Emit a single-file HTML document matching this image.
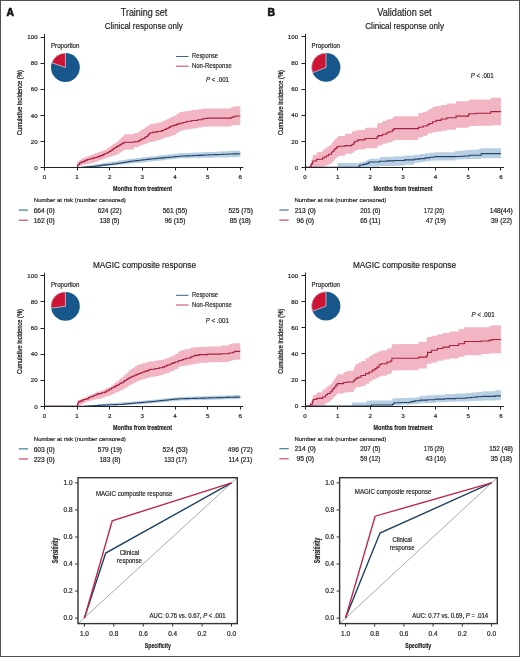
<!DOCTYPE html><html><head><meta charset="utf-8"><style>html,body{margin:0;padding:0;background:#fff;width:520px;height:657px;overflow:hidden}svg{display:block;will-change:transform}</style></head><body><svg width="520" height="657" viewBox="0 0 520 657" font-family='"Liberation Sans", sans-serif'><rect x="0" y="0" width="520" height="657" fill="#fff"/><g opacity="0.999">
<text x="6.60" y="16.30" font-size="10.4" text-anchor="start" font-weight="bold" fill="#111" stroke="#111" stroke-width="0.6">A</text>
<text x="267.40" y="16.30" font-size="10.4" text-anchor="start" font-weight="bold" fill="#111" stroke="#111" stroke-width="0.6">B</text>
<text x="144.00" y="16.40" font-size="10" text-anchor="middle" font-weight="normal" fill="#1c1c1c" stroke="#1c1c1c" stroke-width="0.18" textLength="46.50" lengthAdjust="spacingAndGlyphs" >Training set</text>
<text x="143.80" y="28.60" font-size="8.9" text-anchor="middle" font-weight="normal" fill="#1c1c1c" stroke="#1c1c1c" stroke-width="0.18" textLength="78.00" lengthAdjust="spacingAndGlyphs" >Clinical response only</text>
<text x="404.40" y="16.40" font-size="10" text-anchor="middle" font-weight="normal" fill="#1c1c1c" stroke="#1c1c1c" stroke-width="0.18" textLength="54.30" lengthAdjust="spacingAndGlyphs" >Validation set</text>
<text x="404.60" y="28.60" font-size="8.9" text-anchor="middle" font-weight="normal" fill="#1c1c1c" stroke="#1c1c1c" stroke-width="0.18" textLength="78.70" lengthAdjust="spacingAndGlyphs" >Clinical response only</text>
<text x="144.50" y="268.10" font-size="8.9" text-anchor="middle" font-weight="normal" fill="#1c1c1c" stroke="#1c1c1c" stroke-width="0.18" textLength="103.00" lengthAdjust="spacingAndGlyphs" >MAGIC composite response</text>
<text x="404.50" y="268.10" font-size="8.9" text-anchor="middle" font-weight="normal" fill="#1c1c1c" stroke="#1c1c1c" stroke-width="0.18" textLength="103.00" lengthAdjust="spacingAndGlyphs" >MAGIC composite response</text>
<path d="M77.05,167.50 L78.16,167.50 L78.16,167.28 L81.63,167.28 L81.63,166.58 L84.33,166.58 L84.33,166.07 L86.69,166.07 L86.69,165.69 L89.70,165.69 L89.70,165.20 L92.43,165.20 L92.43,164.76 L94.26,164.76 L94.26,164.46 L95.78,164.46 L95.78,164.21 L96.41,164.21 L96.41,164.11 L97.65,164.11 L97.65,163.91 L99.83,163.91 L99.83,163.56 L100.74,163.56 L100.74,163.41 L102.37,163.41 L102.37,163.14 L103.01,163.14 L103.01,163.04 L104.83,163.04 L104.83,162.75 L104.86,162.75 L104.86,162.74 L106.90,162.74 L106.90,162.43 L108.21,162.43 L108.21,162.23 L110.71,162.23 L110.71,161.84 L112.38,161.84 L112.38,161.59 L113.32,161.59 L113.32,161.44 L115.11,161.44 L115.11,161.17 L116.84,161.17 L116.84,160.90 L118.29,160.90 L118.29,160.68 L118.89,160.68 L118.89,160.59 L119.79,160.59 L119.79,160.45 L121.13,160.45 L121.13,160.24 L121.81,160.24 L121.81,160.14 L123.06,160.14 L123.06,159.95 L124.41,159.95 L124.41,159.74 L125.53,159.74 L125.53,159.57 L126.33,159.57 L126.33,159.44 L127.48,159.44 L127.48,159.27 L128.52,159.27 L128.52,159.11 L129.90,159.11 L129.90,158.89 L131.21,158.89 L131.21,158.73 L132.58,158.73 L132.58,158.56 L134.93,158.56 L134.93,158.28 L136.20,158.28 L136.20,158.12 L137.92,158.12 L137.92,157.91 L139.02,157.91 L139.02,157.77 L141.31,157.77 L141.31,157.50 L141.44,157.50 L141.44,157.48 L142.87,157.48 L142.87,157.30 L143.69,157.30 L143.69,157.20 L145.45,157.20 L145.45,156.99 L147.38,156.99 L147.38,156.75 L149.01,156.75 L149.01,156.55 L150.78,156.55 L150.78,156.34 L152.23,156.34 L152.23,156.19 L154.51,156.19 L154.51,155.94 L156.23,155.94 L156.23,155.75 L157.83,155.75 L157.83,155.58 L159.04,155.58 L159.04,155.45 L159.99,155.45 L159.99,155.34 L162.23,155.34 L162.23,155.10 L164.07,155.10 L164.07,154.90 L165.14,154.90 L165.14,154.78 L165.70,154.78 L165.70,154.72 L167.66,154.72 L167.66,154.51 L168.99,154.51 L168.99,154.36 L171.16,154.36 L171.16,154.13 L173.58,154.13 L173.58,153.87 L173.89,153.87 L173.89,153.83 L175.16,153.83 L175.16,153.69 L176.80,153.69 L176.80,153.52 L179.05,153.52 L179.05,153.27 L181.81,153.27 L181.81,153.08 L185.70,153.08 L185.70,152.91 L189.24,152.91 L189.24,152.75 L193.14,152.75 L193.14,152.58 L197.13,152.58 L197.13,152.41 L201.23,152.41 L201.23,152.23 L202.84,152.23 L202.84,152.16 L204.81,152.16 L204.81,152.08 L209.34,152.08 L209.34,151.88 L214.09,151.88 L214.09,151.67 L217.49,151.67 L217.49,151.53 L218.29,151.53 L218.29,151.49 L222.96,151.49 L222.96,151.29 L228.34,151.29 L228.34,151.05 L233.26,151.05 L233.26,150.84 L237.37,150.84 L237.37,150.66 L240.30,150.66 L240.30,150.66 L240.30,157.12 L240.30,157.12 L237.37,157.12 L237.37,157.20 L233.26,157.20 L233.26,157.29 L228.34,157.29 L228.34,157.40 L222.96,157.40 L222.96,157.49 L218.29,157.49 L218.29,157.51 L217.49,157.51 L217.49,157.57 L214.09,157.57 L214.09,157.67 L209.34,157.67 L209.34,157.75 L204.81,157.75 L204.81,157.79 L202.84,157.79 L202.84,157.82 L201.23,157.82 L201.23,157.90 L197.13,157.90 L197.13,157.98 L193.14,157.98 L193.14,158.06 L189.24,158.06 L189.24,158.13 L185.70,158.13 L185.70,158.20 L181.81,158.20 L181.81,158.36 L179.05,158.36 L179.05,158.61 L176.80,158.61 L176.80,158.78 L175.16,158.78 L175.16,158.92 L173.89,158.92 L173.89,158.96 L173.58,158.96 L173.58,159.22 L171.16,159.22 L171.16,159.45 L168.99,159.45 L168.99,159.60 L167.66,159.60 L167.66,159.81 L165.70,159.81 L165.70,159.87 L165.14,159.87 L165.14,159.99 L164.07,159.99 L164.07,160.19 L162.23,160.19 L162.23,160.43 L159.99,160.43 L159.99,160.54 L159.04,160.54 L159.04,160.67 L157.83,160.67 L157.83,160.84 L156.23,160.84 L156.23,161.03 L154.51,161.03 L154.51,161.27 L152.23,161.27 L152.23,161.43 L150.78,161.43 L150.78,161.62 L149.01,161.62 L149.01,161.79 L147.38,161.79 L147.38,161.99 L145.45,161.99 L145.45,162.17 L143.69,162.17 L143.69,162.25 L142.87,162.25 L142.87,162.40 L141.44,162.40 L141.44,162.41 L141.31,162.41 L141.31,162.65 L139.02,162.65 L139.02,162.76 L137.92,162.76 L137.92,162.94 L136.20,162.94 L136.20,163.07 L134.93,163.07 L134.93,163.31 L132.58,163.31 L132.58,163.45 L131.21,163.45 L131.21,163.59 L129.90,163.59 L129.90,163.74 L128.52,163.74 L128.52,163.85 L127.48,163.85 L127.48,163.97 L126.33,163.97 L126.33,164.06 L125.53,164.06 L125.53,164.18 L124.41,164.18 L124.41,164.33 L123.06,164.33 L123.06,164.46 L121.81,164.46 L121.81,164.53 L121.13,164.53 L121.13,164.68 L119.79,164.68 L119.79,164.77 L118.89,164.77 L118.89,164.84 L118.29,164.84 L118.29,164.99 L116.84,164.99 L116.84,165.18 L115.11,165.18 L115.11,165.37 L113.32,165.37 L113.32,165.48 L112.38,165.48 L112.38,165.65 L110.71,165.65 L110.71,165.92 L108.21,165.92 L108.21,166.06 L106.90,166.06 L106.90,166.28 L104.86,166.28 L104.86,166.29 L104.83,166.29 L104.83,166.45 L103.01,166.45 L103.01,166.50 L102.37,166.50 L102.37,166.63 L100.74,166.63 L100.74,166.71 L99.83,166.71 L99.83,166.89 L97.65,166.89 L97.65,166.99 L96.41,166.99 L96.41,167.04 L95.78,167.04 L95.78,167.17 L94.26,167.17 L94.26,167.25 L92.43,167.25 L92.43,167.30 L89.70,167.30 L89.70,167.35 L86.69,167.35 L86.69,167.38 L84.33,167.38 L84.33,167.43 L81.63,167.43 L81.63,167.48 L78.16,167.48 L78.16,167.50 L77.05,167.50Z" fill="#b8cfe3" />
<path d="M77.05,167.50 L77.47,167.50 L77.47,161.81 L77.94,161.81 L77.94,161.42 L78.07,161.42 L78.07,161.31 L78.13,161.31 L78.13,161.26 L78.15,161.26 L78.15,161.25 L79.55,161.25 L79.55,160.09 L81.25,160.09 L81.25,158.67 L81.71,158.67 L81.71,158.33 L84.10,158.33 L84.10,157.40 L85.77,157.40 L85.77,156.75 L87.55,156.75 L87.55,156.06 L89.94,156.06 L89.94,155.14 L92.45,155.14 L92.45,154.16 L94.62,154.16 L94.62,153.37 L97.03,153.37 L97.03,152.52 L99.18,152.52 L99.18,151.76 L100.45,151.76 L100.45,151.31 L102.88,151.31 L102.88,150.45 L104.22,150.45 L104.22,149.97 L105.24,149.97 L105.24,149.38 L107.01,149.38 L107.01,148.23 L108.38,148.23 L108.38,147.34 L109.64,147.34 L109.64,146.52 L110.77,146.52 L110.77,145.78 L111.94,145.78 L111.94,145.02 L112.92,145.02 L112.92,144.38 L113.06,144.38 L113.06,144.29 L113.49,144.29 L113.49,144.02 L113.89,144.02 L113.89,143.75 L114.64,143.75 L114.64,143.27 L115.20,143.27 L115.20,142.90 L116.54,142.90 L116.54,141.83 L117.63,141.83 L117.63,140.77 L119.25,140.77 L119.25,139.19 L120.66,139.19 L120.66,137.82 L121.83,137.82 L121.83,136.69 L123.13,136.69 L123.13,135.43 L124.46,135.43 L124.46,134.14 L133.87,134.14 L133.87,132.90 L138.60,132.90 L138.60,131.68 L139.66,131.68 L139.66,130.98 L140.31,130.98 L140.31,130.56 L141.47,130.56 L141.47,129.79 L141.52,129.79 L141.52,129.76 L142.69,129.76 L142.69,128.99 L144.64,128.99 L144.64,127.70 L145.37,127.70 L145.37,127.22 L146.46,127.22 L146.46,126.50 L147.70,126.50 L147.70,125.69 L148.07,125.69 L148.07,125.44 L148.38,125.44 L148.38,125.24 L149.12,125.24 L149.12,124.75 L150.13,124.75 L150.13,124.08 L152.96,124.08 L152.96,123.40 L156.90,123.40 L156.90,122.49 L161.25,122.49 L161.25,121.48 L161.38,121.48 L161.38,121.45 L163.36,121.45 L163.36,120.80 L164.62,120.80 L164.62,120.19 L166.16,120.19 L166.16,119.45 L167.11,119.45 L167.11,119.00 L168.85,119.00 L168.85,118.15 L170.27,118.15 L170.27,117.47 L171.06,117.47 L171.06,117.09 L171.43,117.09 L171.43,116.91 L173.31,116.91 L173.31,115.89 L176.21,115.89 L176.21,114.22 L178.03,114.22 L178.03,113.17 L179.86,113.17 L179.86,112.12 L182.92,112.12 L182.92,111.48 L182.94,111.48 L182.94,111.48 L185.84,111.48 L185.84,111.02 L187.75,111.02 L187.75,110.72 L191.59,110.72 L191.59,110.12 L197.59,110.12 L197.59,109.18 L201.99,109.18 L201.99,108.69 L204.05,108.69 L204.05,108.60 L207.29,108.60 L207.29,108.46 L231.28,108.46 L231.28,107.11 L232.88,107.11 L232.88,106.71 L234.39,106.71 L234.39,106.34 L236.32,106.34 L236.32,106.17 L240.30,106.17 L240.30,106.17 L240.30,124.96 L240.30,124.96 L236.32,124.96 L236.32,125.04 L234.39,125.04 L234.39,125.23 L232.88,125.23 L232.88,125.43 L231.28,125.43 L231.28,126.60 L207.29,126.60 L207.29,126.74 L204.05,126.74 L204.05,126.83 L201.99,126.83 L201.99,127.38 L197.59,127.38 L197.59,128.48 L191.59,128.48 L191.59,129.19 L187.75,129.19 L187.75,129.54 L185.84,129.54 L185.84,130.07 L182.94,130.07 L182.94,130.07 L182.92,130.07 L182.92,130.80 L179.86,130.80 L179.86,131.94 L178.03,131.94 L178.03,133.07 L176.21,133.07 L176.21,134.88 L173.31,134.88 L173.31,135.84 L171.43,135.84 L171.43,135.95 L171.06,135.95 L171.06,136.18 L170.27,136.18 L170.27,136.59 L168.85,136.59 L168.85,137.09 L167.11,137.09 L167.11,137.37 L166.16,137.37 L166.16,137.81 L164.62,137.81 L164.62,138.18 L163.36,138.18 L163.36,138.74 L161.38,138.74 L161.38,138.78 L161.25,138.78 L161.25,140.01 L156.90,140.01 L156.90,141.13 L152.96,141.13 L152.96,141.94 L150.13,141.94 L150.13,142.31 L149.12,142.31 L149.12,142.57 L148.38,142.57 L148.38,142.68 L148.07,142.68 L148.07,142.82 L147.70,142.82 L147.70,143.26 L146.46,143.26 L146.46,143.65 L145.37,143.65 L145.37,143.92 L144.64,143.92 L144.64,144.62 L142.69,144.62 L142.69,145.04 L141.52,145.04 L141.52,145.06 L141.47,145.06 L141.47,145.47 L140.31,145.47 L140.31,145.71 L139.66,145.71 L139.66,146.09 L138.60,146.09 L138.60,147.32 L133.87,147.32 L133.87,149.60 L124.46,149.60 L124.46,150.43 L123.13,150.43 L123.13,151.25 L121.83,151.25 L121.83,151.98 L120.66,151.98 L120.66,152.87 L119.25,152.87 L119.25,153.89 L117.63,153.89 L117.63,154.57 L116.54,154.57 L116.54,155.18 L115.20,155.18 L115.20,155.35 L114.64,155.35 L114.64,155.57 L113.89,155.57 L113.89,155.69 L113.49,155.69 L113.49,155.82 L113.06,155.82 L113.06,155.86 L112.92,155.86 L112.92,156.15 L111.94,156.15 L111.94,156.50 L110.77,156.50 L110.77,156.83 L109.64,156.83 L109.64,157.21 L108.38,157.21 L108.38,157.61 L107.01,157.61 L107.01,158.14 L105.24,158.14 L105.24,158.46 L104.22,158.46 L104.22,158.95 L102.88,158.95 L102.88,159.84 L100.45,159.84 L100.45,160.30 L99.18,160.30 L99.18,161.09 L97.03,161.09 L97.03,161.97 L94.62,161.97 L94.62,162.66 L92.45,162.66 L92.45,163.18 L89.94,163.18 L89.94,163.67 L87.55,163.67 L87.55,164.04 L85.77,164.04 L85.77,164.38 L84.10,164.38 L84.10,164.87 L81.71,164.87 L81.71,165.10 L81.25,165.10 L81.25,166.07 L79.55,166.07 L79.55,166.87 L78.15,166.87 L78.15,166.88 L78.13,166.88 L78.13,166.92 L78.07,166.92 L78.07,166.99 L77.94,166.99 L77.94,167.26 L77.47,167.26 L77.47,167.50 L77.05,167.50Z" fill="#f1b5c3" />
<path d="M44.40,167.50 L77.05,167.50 L78.16,167.50 L78.16,167.43 L81.63,167.43 L81.63,167.20 L84.33,167.20 L84.33,167.03 L86.69,167.03 L86.69,166.87 L89.70,166.87 L89.70,166.67 L92.43,166.67 L92.43,166.50 L94.26,166.50 L94.26,166.29 L95.78,166.29 L95.78,166.08 L96.41,166.08 L96.41,166.00 L97.65,166.00 L97.65,165.83 L99.83,165.83 L99.83,165.53 L100.74,165.53 L100.74,165.40 L102.37,165.40 L102.37,165.18 L103.01,165.18 L103.01,165.09 L104.83,165.09 L104.83,164.85 L104.86,164.85 L104.86,164.85 L106.90,164.85 L106.90,164.64 L108.21,164.64 L108.21,164.51 L110.71,164.51 L110.71,164.25 L112.38,164.25 L112.38,164.08 L113.32,164.08 L113.32,163.98 L115.11,163.98 L115.11,163.80 L116.84,163.80 L116.84,163.56 L118.29,163.56 L118.29,163.32 L118.89,163.32 L118.89,163.22 L119.79,163.22 L119.79,163.07 L121.13,163.07 L121.13,162.84 L121.81,162.84 L121.81,162.73 L123.06,162.73 L123.06,162.52 L124.41,162.52 L124.41,162.29 L125.53,162.29 L125.53,162.10 L126.33,162.10 L126.33,161.97 L127.48,161.97 L127.48,161.78 L128.52,161.78 L128.52,161.60 L129.90,161.60 L129.90,161.37 L131.21,161.37 L131.21,161.22 L132.58,161.22 L132.58,161.06 L134.93,161.06 L134.93,160.79 L136.20,160.79 L136.20,160.64 L137.92,160.64 L137.92,160.44 L139.02,160.44 L139.02,160.32 L141.31,160.32 L141.31,160.05 L141.44,160.05 L141.44,160.04 L142.87,160.04 L142.87,159.87 L143.69,159.87 L143.69,159.77 L145.45,159.77 L145.45,159.57 L147.38,159.57 L147.38,159.34 L149.01,159.34 L149.01,159.16 L150.78,159.16 L150.78,158.96 L152.23,158.96 L152.23,158.82 L154.51,158.82 L154.51,158.60 L156.23,158.60 L156.23,158.44 L157.83,158.44 L157.83,158.29 L159.04,158.29 L159.04,158.17 L159.99,158.17 L159.99,158.08 L162.23,158.08 L162.23,157.87 L164.07,157.87 L164.07,157.69 L165.14,157.69 L165.14,157.59 L165.70,157.59 L165.70,157.53 L167.66,157.53 L167.66,157.35 L168.99,157.35 L168.99,157.22 L171.16,157.22 L171.16,157.01 L173.58,157.01 L173.58,156.78 L173.89,156.78 L173.89,156.75 L175.16,156.75 L175.16,156.63 L176.80,156.63 L176.80,156.47 L179.05,156.47 L179.05,156.26 L181.81,156.26 L181.81,156.07 L185.70,156.07 L185.70,155.89 L189.24,155.89 L189.24,155.72 L193.14,155.72 L193.14,155.54 L197.13,155.54 L197.13,155.35 L201.23,155.35 L201.23,155.15 L202.84,155.15 L202.84,155.08 L204.81,155.08 L204.81,154.98 L209.34,154.98 L209.34,154.80 L214.09,154.80 L214.09,154.62 L217.49,154.62 L217.49,154.49 L218.29,154.49 L218.29,154.45 L222.96,154.45 L222.96,154.27 L228.34,154.27 L228.34,154.06 L233.26,154.06 L233.26,153.87 L237.37,153.87 L237.37,153.80 L240.30,153.80 L240.30,153.80" fill="none" stroke="#23466b" stroke-width="1.1" />
<path d="M44.40,167.50 L77.05,167.50 L77.47,167.50 L77.47,166.24 L77.94,166.24 L77.94,164.82 L78.07,164.82 L78.07,164.44 L78.13,164.44 L78.13,164.26 L78.15,164.26 L78.15,164.21 L79.55,164.21 L79.55,162.97 L81.25,162.97 L81.25,162.08 L81.71,162.08 L81.71,161.85 L84.10,161.85 L84.10,160.83 L85.77,160.83 L85.77,160.13 L87.55,160.13 L87.55,159.48 L89.94,159.48 L89.94,158.82 L92.45,158.82 L92.45,158.14 L94.62,158.14 L94.62,157.52 L97.03,157.52 L97.03,156.83 L99.18,156.83 L99.18,156.17 L100.45,156.17 L100.45,155.63 L102.88,155.63 L102.88,154.60 L104.22,154.60 L104.22,154.04 L105.24,154.04 L105.24,153.55 L107.01,153.55 L107.01,152.69 L108.38,152.69 L108.38,152.02 L109.64,152.02 L109.64,151.40 L110.77,151.40 L110.77,150.75 L111.94,150.75 L111.94,149.90 L112.92,149.90 L112.92,149.18 L113.06,149.18 L113.06,149.08 L113.49,149.08 L113.49,148.77 L113.89,148.77 L113.89,148.48 L114.64,148.48 L114.64,147.93 L115.20,147.93 L115.20,147.53 L116.54,147.53 L116.54,146.65 L117.63,146.65 L117.63,146.02 L119.25,146.02 L119.25,145.08 L120.66,145.08 L120.66,144.26 L121.83,144.26 L121.83,143.59 L123.13,143.59 L123.13,142.92 L124.46,142.92 L124.46,142.23 L133.87,142.23 L133.87,141.73 L138.60,141.73 L138.60,140.83 L139.66,140.83 L139.66,140.24 L140.31,140.24 L140.31,139.88 L141.47,139.88 L141.47,139.23 L141.52,139.23 L141.52,139.20 L142.69,139.20 L142.69,138.55 L144.64,138.55 L144.64,137.46 L145.37,137.46 L145.37,137.05 L146.46,137.05 L146.46,136.44 L147.70,136.44 L147.70,135.34 L148.07,135.34 L148.07,134.94 L148.38,134.94 L148.38,134.61 L149.12,134.61 L149.12,133.81 L150.13,133.81 L150.13,132.72 L152.96,132.72 L152.96,132.16 L156.90,132.16 L156.90,131.46 L161.25,131.46 L161.25,130.68 L161.38,130.68 L161.38,130.65 L163.36,130.65 L163.36,130.06 L164.62,130.06 L164.62,129.43 L166.16,129.43 L166.16,128.67 L167.11,128.67 L167.11,128.20 L168.85,128.20 L168.85,127.33 L170.27,127.33 L170.27,126.63 L171.06,126.63 L171.06,126.24 L171.43,126.24 L171.43,126.05 L173.31,126.05 L173.31,125.34 L176.21,125.34 L176.21,124.41 L178.03,124.41 L178.03,123.83 L179.86,123.83 L179.86,123.25 L182.92,123.25 L182.92,122.45 L182.94,122.45 L182.94,122.44 L185.84,122.44 L185.84,121.71 L187.75,121.71 L187.75,121.22 L191.59,121.22 L191.59,120.47 L197.59,120.47 L197.59,119.77 L201.99,119.77 L201.99,118.98 L204.05,118.98 L204.05,118.43 L207.29,118.43 L207.29,118.17 L231.28,118.17 L231.28,117.57 L232.88,117.57 L232.88,116.88 L234.39,116.88 L234.39,116.25 L236.32,116.25 L236.32,115.95 L240.30,115.95 L240.30,115.95" fill="none" stroke="#a8203f" stroke-width="1.1" />
<line x1="44.50" y1="34.00" x2="44.50" y2="170.50" stroke="#222" stroke-width="1.0" />
<line x1="40.50" y1="167.50" x2="243.30" y2="167.50" stroke="#222" stroke-width="1.0" />
<line x1="40.50" y1="141.50" x2="44.50" y2="141.50" stroke="#222" stroke-width="1" />
<line x1="40.50" y1="115.50" x2="44.50" y2="115.50" stroke="#222" stroke-width="1" />
<line x1="40.50" y1="89.50" x2="44.50" y2="89.50" stroke="#222" stroke-width="1" />
<line x1="40.50" y1="63.50" x2="44.50" y2="63.50" stroke="#222" stroke-width="1" />
<line x1="40.50" y1="37.50" x2="44.50" y2="37.50" stroke="#222" stroke-width="1" />
<text x="37.60" y="169.70" font-size="6.2" text-anchor="end" font-weight="normal" fill="#1c1c1c" stroke="#1c1c1c" stroke-width="0.18" >0</text>
<text x="37.60" y="143.60" font-size="6.2" text-anchor="end" font-weight="normal" fill="#1c1c1c" stroke="#1c1c1c" stroke-width="0.18" >20</text>
<text x="37.60" y="117.50" font-size="6.2" text-anchor="end" font-weight="normal" fill="#1c1c1c" stroke="#1c1c1c" stroke-width="0.18" >40</text>
<text x="37.60" y="91.40" font-size="6.2" text-anchor="end" font-weight="normal" fill="#1c1c1c" stroke="#1c1c1c" stroke-width="0.18" >60</text>
<text x="37.60" y="65.30" font-size="6.2" text-anchor="end" font-weight="normal" fill="#1c1c1c" stroke="#1c1c1c" stroke-width="0.18" >80</text>
<text x="37.60" y="39.20" font-size="6.2" text-anchor="end" font-weight="normal" fill="#1c1c1c" stroke="#1c1c1c" stroke-width="0.18" >100</text>
<line x1="77.50" y1="167.50" x2="77.50" y2="170.50" stroke="#222" stroke-width="1" />
<line x1="109.50" y1="167.50" x2="109.50" y2="170.50" stroke="#222" stroke-width="1" />
<line x1="142.50" y1="167.50" x2="142.50" y2="170.50" stroke="#222" stroke-width="1" />
<line x1="175.50" y1="167.50" x2="175.50" y2="170.50" stroke="#222" stroke-width="1" />
<line x1="207.50" y1="167.50" x2="207.50" y2="170.50" stroke="#222" stroke-width="1" />
<line x1="240.50" y1="167.50" x2="240.50" y2="170.50" stroke="#222" stroke-width="1" />
<text x="44.40" y="179.00" font-size="6.2" text-anchor="middle" font-weight="normal" fill="#1c1c1c" stroke="#1c1c1c" stroke-width="0.18" >0</text>
<text x="77.05" y="179.00" font-size="6.2" text-anchor="middle" font-weight="normal" fill="#1c1c1c" stroke="#1c1c1c" stroke-width="0.18" >1</text>
<text x="109.70" y="179.00" font-size="6.2" text-anchor="middle" font-weight="normal" fill="#1c1c1c" stroke="#1c1c1c" stroke-width="0.18" >2</text>
<text x="142.35" y="179.00" font-size="6.2" text-anchor="middle" font-weight="normal" fill="#1c1c1c" stroke="#1c1c1c" stroke-width="0.18" >3</text>
<text x="175.00" y="179.00" font-size="6.2" text-anchor="middle" font-weight="normal" fill="#1c1c1c" stroke="#1c1c1c" stroke-width="0.18" >4</text>
<text x="207.65" y="179.00" font-size="6.2" text-anchor="middle" font-weight="normal" fill="#1c1c1c" stroke="#1c1c1c" stroke-width="0.18" >5</text>
<text x="240.30" y="179.00" font-size="6.2" text-anchor="middle" font-weight="normal" fill="#1c1c1c" stroke="#1c1c1c" stroke-width="0.18" >6</text>
<text transform="translate(21.90,102.70) rotate(-90)" font-size="8.1" text-anchor="middle" fill="#1c1c1c" stroke="#1c1c1c" stroke-width="0.28" textLength="65" lengthAdjust="spacingAndGlyphs">Cumulative incidence (%)</text>
<text x="142.50" y="191.10" font-size="7.9" text-anchor="middle" font-weight="bold" fill="#1c1c1c" textLength="59.00" lengthAdjust="spacingAndGlyphs" stroke="#1c1c1c" stroke-width="0.2">Months from treatment</text>
<circle cx="65.40" cy="67.50" r="14.4" fill="#18578c"/>
<path d="M65.40,67.50 L65.40,53.10 A14.4,14.4 0 0 0 51.82,62.72 Z" fill="#cc1535" stroke="#e8dce4" stroke-width="0.7"/>
<text x="65.20" y="47.90" font-size="6.4" text-anchor="middle" font-weight="normal" fill="#1c1c1c" stroke="#1c1c1c" stroke-width="0.18" textLength="28.40" lengthAdjust="spacingAndGlyphs" >Proportion</text>
<line x1="176.00" y1="56.50" x2="188.50" y2="56.50" stroke="#3a6790" stroke-width="1.0" />
<line x1="176.00" y1="66.20" x2="188.50" y2="66.20" stroke="#c0405e" stroke-width="1.0" />
<text x="192.00" y="58.10" font-size="7.3" text-anchor="start" font-weight="normal" fill="#1c1c1c" stroke="#1c1c1c" stroke-width="0.18" textLength="26.00" lengthAdjust="spacingAndGlyphs" >Response</text>
<text x="192.00" y="67.90" font-size="7.3" text-anchor="start" font-weight="normal" fill="#1c1c1c" stroke="#1c1c1c" stroke-width="0.18" textLength="39.70" lengthAdjust="spacingAndGlyphs" >Non-Response</text>
<text x="206.00" y="81.60" font-size="6.8" fill="#1c1c1c" stroke="#1c1c1c" stroke-width="0.18" textLength="23" lengthAdjust="spacingAndGlyphs"><tspan font-style="italic">P</tspan> &lt; .001</text>
<text x="33.80" y="202.30" font-size="6.0" text-anchor="start" font-weight="normal" fill="#1c1c1c" stroke="#1c1c1c" stroke-width="0.18" textLength="92.00" lengthAdjust="spacingAndGlyphs" >Number at risk (number censored)</text>
<line x1="18.80" y1="210.10" x2="28.00" y2="210.10" stroke="#2e6f8f" stroke-width="1.1" />
<line x1="18.80" y1="220.20" x2="28.00" y2="220.20" stroke="#c23a55" stroke-width="1.1" />
<text x="33.65" y="212.70" font-size="6.3" text-anchor="start" font-weight="normal" fill="#1c1c1c" stroke="#1c1c1c" stroke-width="0.18" textLength="21.10" lengthAdjust="spacingAndGlyphs" >664 (0)</text>
<text x="97.65" y="212.70" font-size="6.3" text-anchor="start" font-weight="normal" fill="#1c1c1c" stroke="#1c1c1c" stroke-width="0.18" textLength="23.95" lengthAdjust="spacingAndGlyphs" >624 (22)</text>
<text x="162.65" y="212.70" font-size="6.3" text-anchor="start" font-weight="normal" fill="#1c1c1c" stroke="#1c1c1c" stroke-width="0.18" textLength="24.70" lengthAdjust="spacingAndGlyphs" >561 (55)</text>
<text x="228.40" y="212.70" font-size="6.3" text-anchor="start" font-weight="normal" fill="#1c1c1c" stroke="#1c1c1c" stroke-width="0.18" textLength="24.45" lengthAdjust="spacingAndGlyphs" >525 (75)</text>
<text x="33.65" y="222.70" font-size="6.3" text-anchor="start" font-weight="normal" fill="#1c1c1c" stroke="#1c1c1c" stroke-width="0.18" textLength="21.10" lengthAdjust="spacingAndGlyphs" >162 (0)</text>
<text x="99.65" y="222.70" font-size="6.3" text-anchor="start" font-weight="normal" fill="#1c1c1c" stroke="#1c1c1c" stroke-width="0.18" textLength="19.70" lengthAdjust="spacingAndGlyphs" >138 (5)</text>
<text x="164.65" y="222.70" font-size="6.3" text-anchor="start" font-weight="normal" fill="#1c1c1c" stroke="#1c1c1c" stroke-width="0.18" textLength="20.70" lengthAdjust="spacingAndGlyphs" >96 (15)</text>
<text x="229.65" y="222.70" font-size="6.3" text-anchor="start" font-weight="normal" fill="#1c1c1c" stroke="#1c1c1c" stroke-width="0.18" textLength="21.20" lengthAdjust="spacingAndGlyphs" >85 (18)</text>
<path d="M77.05,406.30 L79.86,406.30 L79.86,406.08 L84.59,406.08 L84.59,405.70 L87.39,405.70 L87.39,405.46 L89.36,405.46 L89.36,405.26 L89.62,405.26 L89.62,405.23 L92.48,405.23 L92.48,404.94 L94.59,404.94 L94.59,404.72 L96.72,404.72 L96.72,404.50 L98.57,404.50 L98.57,404.31 L101.07,404.31 L101.07,404.05 L103.27,404.05 L103.27,403.83 L105.45,403.83 L105.45,403.60 L107.24,403.60 L107.24,403.42 L109.63,403.42 L109.63,403.17 L110.98,403.17 L110.98,403.07 L113.51,403.07 L113.51,402.88 L117.67,402.88 L117.67,402.56 L121.86,402.56 L121.86,402.24 L123.45,402.24 L123.45,402.12 L124.35,402.12 L124.35,402.06 L125.56,402.06 L125.56,401.96 L126.70,401.96 L126.70,401.88 L127.77,401.88 L127.77,401.80 L127.96,401.80 L127.96,401.78 L129.07,401.78 L129.07,401.70 L130.81,401.70 L130.81,401.57 L132.05,401.57 L132.05,401.47 L133.42,401.47 L133.42,401.37 L135.22,401.37 L135.22,401.23 L136.17,401.23 L136.17,401.16 L137.51,401.16 L137.51,401.06 L138.50,401.06 L138.50,400.98 L139.60,400.98 L139.60,400.90 L141.20,400.90 L141.20,400.78 L142.40,400.78 L142.40,400.68 L144.32,400.68 L144.32,400.49 L146.27,400.49 L146.27,400.30 L147.42,400.30 L147.42,400.18 L148.49,400.18 L148.49,400.08 L150.65,400.08 L150.65,399.86 L151.78,399.86 L151.78,399.75 L152.86,399.75 L152.86,399.64 L154.26,399.64 L154.26,399.50 L155.26,399.50 L155.26,399.40 L156.51,399.40 L156.51,399.27 L157.31,399.27 L157.31,399.19 L159.06,399.19 L159.06,399.02 L160.27,399.02 L160.27,398.90 L160.62,398.90 L160.62,398.86 L160.63,398.86 L160.63,398.86 L162.43,398.86 L162.43,398.68 L163.62,398.68 L163.62,398.56 L164.51,398.56 L164.51,398.47 L165.81,398.47 L165.81,398.34 L166.91,398.34 L166.91,398.23 L168.56,398.23 L168.56,398.07 L169.37,398.07 L169.37,397.99 L170.84,397.99 L170.84,397.84 L171.59,397.84 L171.59,397.77 L173.03,397.77 L173.03,397.62 L173.25,397.62 L173.25,397.60 L174.49,397.60 L174.49,397.48 L175.37,397.48 L175.37,397.39 L177.11,397.39 L177.11,397.22 L178.80,397.22 L178.80,397.05 L179.17,397.05 L179.17,397.01 L180.85,397.01 L180.85,396.88 L184.70,396.88 L184.70,396.75 L188.60,396.75 L188.60,396.61 L192.79,396.61 L192.79,396.47 L197.32,396.47 L197.32,396.31 L200.87,396.31 L200.87,396.19 L205.76,396.19 L205.76,396.02 L209.22,396.02 L209.22,395.90 L210.98,395.90 L210.98,395.84 L213.93,395.84 L213.93,395.73 L217.50,395.73 L217.50,395.61 L222.22,395.61 L222.22,395.44 L226.14,395.44 L226.14,395.31 L229.55,395.31 L229.55,395.19 L230.02,395.19 L230.02,395.17 L234.20,395.17 L234.20,395.03 L238.41,395.03 L238.41,394.88 L240.30,394.88 L240.30,394.88 L240.30,399.04 L240.30,399.04 L238.41,399.04 L238.41,399.15 L234.20,399.15 L234.20,399.26 L230.02,399.26 L230.02,399.27 L229.55,399.27 L229.55,399.36 L226.14,399.36 L226.14,399.46 L222.22,399.46 L222.22,399.59 L217.50,399.59 L217.50,399.68 L213.93,399.68 L213.93,399.76 L210.98,399.76 L210.98,399.80 L209.22,399.80 L209.22,399.89 L205.76,399.89 L205.76,400.02 L200.87,400.02 L200.87,400.11 L197.32,400.11 L197.32,400.23 L192.79,400.23 L192.79,400.34 L188.60,400.34 L188.60,400.44 L184.70,400.44 L184.70,400.54 L180.85,400.54 L180.85,400.65 L179.17,400.65 L179.17,400.69 L178.80,400.69 L178.80,400.84 L177.11,400.84 L177.11,400.99 L175.37,400.99 L175.37,401.07 L174.49,401.07 L174.49,401.18 L173.25,401.18 L173.25,401.20 L173.03,401.20 L173.03,401.33 L171.59,401.33 L171.59,401.40 L170.84,401.40 L170.84,401.53 L169.37,401.53 L169.37,401.60 L168.56,401.60 L168.56,401.75 L166.91,401.75 L166.91,401.85 L165.81,401.85 L165.81,401.97 L164.51,401.97 L164.51,402.05 L163.62,402.05 L163.62,402.15 L162.43,402.15 L162.43,402.31 L160.63,402.31 L160.63,402.31 L160.62,402.31 L160.62,402.35 L160.27,402.35 L160.27,402.45 L159.06,402.45 L159.06,402.61 L157.31,402.61 L157.31,402.68 L156.51,402.68 L156.51,402.79 L155.26,402.79 L155.26,402.88 L154.26,402.88 L154.26,403.01 L152.86,403.01 L152.86,403.11 L151.78,403.11 L151.78,403.21 L150.65,403.21 L150.65,403.40 L148.49,403.40 L148.49,403.50 L147.42,403.50 L147.42,403.60 L146.27,403.60 L146.27,403.77 L144.32,403.77 L144.32,403.95 L142.40,403.95 L142.40,404.01 L141.20,404.01 L141.20,404.09 L139.60,404.09 L139.60,404.15 L138.50,404.15 L138.50,404.20 L137.51,404.20 L137.51,404.27 L136.17,404.27 L136.17,404.32 L135.22,404.32 L135.22,404.42 L133.42,404.42 L133.42,404.49 L132.05,404.49 L132.05,404.55 L130.81,404.55 L130.81,404.64 L129.07,404.64 L129.07,404.70 L127.96,404.70 L127.96,404.71 L127.77,404.71 L127.77,404.76 L126.70,404.76 L126.70,404.82 L125.56,404.82 L125.56,404.89 L124.35,404.89 L124.35,404.93 L123.45,404.93 L123.45,405.02 L121.86,405.02 L121.86,405.23 L117.67,405.23 L117.67,405.45 L113.51,405.45 L113.51,405.58 L110.98,405.58 L110.98,405.65 L109.63,405.65 L109.63,405.75 L107.24,405.75 L107.24,405.82 L105.45,405.82 L105.45,405.90 L103.27,405.90 L103.27,405.99 L101.07,405.99 L101.07,406.09 L98.57,406.09 L98.57,406.17 L96.72,406.17 L96.72,406.18 L94.59,406.18 L94.59,406.20 L92.48,406.20 L92.48,406.22 L89.62,406.22 L89.62,406.22 L89.36,406.22 L89.36,406.23 L87.39,406.23 L87.39,406.25 L84.59,406.25 L84.59,406.28 L79.86,406.28 L79.86,406.30 L77.05,406.30Z" fill="#b8cfe3" />
<path d="M77.05,406.30 L77.32,406.30 L77.32,403.83 L77.43,403.83 L77.43,402.76 L77.68,402.76 L77.68,400.52 L77.86,400.52 L77.86,400.23 L78.11,400.23 L78.11,400.11 L78.51,400.11 L78.51,399.93 L79.03,399.93 L79.03,399.69 L80.46,399.69 L80.46,399.04 L82.72,399.04 L82.72,398.00 L84.09,398.00 L84.09,397.38 L86.54,397.38 L86.54,396.26 L88.66,396.26 L88.66,395.36 L89.70,395.36 L89.70,394.92 L91.30,394.92 L91.30,394.25 L93.67,394.25 L93.67,393.25 L94.93,393.25 L94.93,392.71 L96.93,392.71 L96.93,391.87 L98.06,391.87 L98.06,391.40 L101.65,391.40 L101.65,389.94 L104.56,389.94 L104.56,388.78 L106.28,388.78 L106.28,388.09 L106.92,388.09 L106.92,387.83 L109.00,387.83 L109.00,387.00 L109.32,387.00 L109.32,386.88 L111.39,386.88 L111.39,385.62 L112.17,385.62 L112.17,384.99 L113.87,384.99 L113.87,383.61 L115.00,383.61 L115.00,382.70 L115.88,382.70 L115.88,381.98 L116.55,381.98 L116.55,381.44 L117.80,381.44 L117.80,380.43 L117.99,380.43 L117.99,380.27 L119.52,380.27 L119.52,379.03 L120.44,379.03 L120.44,378.28 L121.33,378.28 L121.33,377.56 L123.48,377.56 L123.48,375.65 L123.81,375.65 L123.81,375.35 L124.84,375.35 L124.84,374.41 L126.36,374.41 L126.36,373.02 L127.77,373.02 L127.77,371.74 L129.12,371.74 L129.12,370.51 L129.65,370.51 L129.65,370.03 L131.50,370.03 L131.50,368.69 L132.83,368.69 L132.83,367.77 L134.87,367.77 L134.87,366.36 L136.82,366.36 L136.82,365.02 L138.67,365.02 L138.67,364.39 L140.87,364.39 L140.87,363.79 L142.76,363.79 L142.76,363.28 L144.91,363.28 L144.91,362.70 L146.80,362.70 L146.80,362.19 L148.61,362.19 L148.61,361.70 L149.65,361.70 L149.65,361.42 L150.82,361.42 L150.82,361.19 L155.32,361.19 L155.32,360.58 L159.07,360.58 L159.07,360.06 L162.53,360.06 L162.53,359.59 L164.58,359.59 L164.58,358.84 L166.71,358.84 L166.71,358.05 L167.78,358.05 L167.78,357.65 L169.94,357.65 L169.94,356.85 L171.47,356.85 L171.47,356.28 L173.55,356.28 L173.55,355.06 L173.57,355.06 L173.57,355.04 L175.30,355.04 L175.30,353.88 L178.14,353.88 L178.14,351.97 L178.94,351.97 L178.94,351.44 L179.58,351.44 L179.58,351.01 L182.04,351.01 L182.04,350.08 L183.90,350.08 L183.90,349.58 L186.28,349.58 L186.28,348.94 L190.16,348.94 L190.16,347.89 L190.89,347.89 L190.89,347.69 L192.03,347.69 L192.03,347.52 L194.70,347.52 L194.70,347.33 L198.91,347.33 L198.91,347.02 L207.68,347.02 L207.68,346.39 L221.13,346.39 L221.13,345.41 L229.09,345.41 L229.09,344.28 L229.55,344.28 L229.55,344.10 L232.64,344.10 L232.64,343.14 L234.73,343.14 L234.73,343.14 L239.41,343.14 L239.41,343.14 L240.30,343.14 L240.30,343.14 L240.30,359.51 L240.30,359.51 L239.41,359.51 L239.41,359.81 L234.73,359.81 L234.73,359.94 L232.64,359.94 L232.64,360.68 L229.55,360.68 L229.55,360.80 L229.09,360.80 L229.09,362.01 L221.13,362.01 L221.13,362.29 L207.68,362.29 L207.68,362.73 L198.91,362.73 L198.91,363.66 L194.70,363.66 L194.70,364.25 L192.03,364.25 L192.03,364.48 L190.89,364.48 L190.89,364.60 L190.16,364.60 L190.16,365.24 L186.28,365.24 L186.28,365.63 L183.90,365.63 L183.90,365.94 L182.04,365.94 L182.04,366.62 L179.58,366.62 L179.58,366.99 L178.94,366.99 L178.94,367.47 L178.14,367.47 L178.14,369.15 L175.30,369.15 L175.30,370.17 L173.57,370.17 L173.57,370.19 L173.55,370.19 L173.55,371.29 L171.47,371.29 L171.47,371.85 L169.94,371.85 L169.94,372.66 L167.78,372.66 L167.78,373.05 L166.71,373.05 L166.71,373.85 L164.58,373.85 L164.58,374.60 L162.53,374.60 L162.53,375.26 L159.07,375.26 L159.07,375.96 L155.32,375.96 L155.32,376.82 L150.82,376.82 L150.82,377.10 L149.65,377.10 L149.65,377.43 L148.61,377.43 L148.61,377.99 L146.80,377.99 L146.80,378.57 L144.91,378.57 L144.91,379.24 L142.76,379.24 L142.76,379.82 L140.87,379.82 L140.87,380.51 L138.67,380.51 L138.67,381.15 L136.82,381.15 L136.82,382.17 L134.87,382.17 L134.87,383.25 L132.83,383.25 L132.83,383.95 L131.50,383.95 L131.50,384.95 L129.65,384.95 L129.65,385.28 L129.12,385.28 L129.12,386.12 L127.77,386.12 L127.77,387.00 L126.36,387.00 L126.36,387.95 L124.84,387.95 L124.84,388.59 L123.81,388.59 L123.81,388.79 L123.48,388.79 L123.48,390.06 L121.33,390.06 L121.33,390.47 L120.44,390.47 L120.44,390.89 L119.52,390.89 L119.52,391.59 L117.99,391.59 L117.99,391.68 L117.80,391.68 L117.80,392.25 L116.55,392.25 L116.55,392.55 L115.88,392.55 L115.88,392.95 L115.00,392.95 L115.00,393.47 L113.87,393.47 L113.87,394.25 L112.17,394.25 L112.17,394.60 L111.39,394.60 L111.39,395.38 L109.32,395.38 L109.32,395.48 L109.00,395.48 L109.00,396.10 L106.92,396.10 L106.92,396.29 L106.28,396.29 L106.28,396.80 L104.56,396.80 L104.56,397.66 L101.65,397.66 L101.65,398.68 L98.06,398.68 L98.06,398.94 L96.93,398.94 L96.93,399.42 L94.93,399.42 L94.93,399.72 L93.67,399.72 L93.67,400.28 L91.30,400.28 L91.30,400.66 L89.70,400.66 L89.70,400.91 L88.66,400.91 L88.66,401.50 L86.54,401.50 L86.54,402.73 L84.09,402.73 L84.09,403.43 L82.72,403.43 L82.72,404.58 L80.46,404.58 L80.46,405.30 L79.03,405.30 L79.03,405.56 L78.51,405.56 L78.51,405.77 L78.11,405.77 L78.11,405.89 L77.86,405.89 L77.86,405.98 L77.68,405.98 L77.68,406.11 L77.43,406.11 L77.43,406.16 L77.32,406.16 L77.32,406.30 L77.05,406.30Z" fill="#f1b5c3" />
<path d="M44.40,406.30 L77.05,406.30 L79.86,406.30 L79.86,406.23 L84.59,406.23 L84.59,406.10 L87.39,406.10 L87.39,406.01 L89.36,406.01 L89.36,405.90 L89.62,405.90 L89.62,405.88 L92.48,405.88 L92.48,405.72 L94.59,405.72 L94.59,405.60 L96.72,405.60 L96.72,405.47 L98.57,405.47 L98.57,405.37 L101.07,405.37 L101.07,405.23 L103.27,405.23 L103.27,405.10 L105.45,405.10 L105.45,404.98 L107.24,404.98 L107.24,404.87 L109.63,404.87 L109.63,404.74 L110.98,404.74 L110.98,404.69 L113.51,404.69 L113.51,404.61 L117.67,404.61 L117.67,404.48 L121.86,404.48 L121.86,404.34 L123.45,404.34 L123.45,404.18 L124.35,404.18 L124.35,404.10 L125.56,404.10 L125.56,403.98 L126.70,403.98 L126.70,403.87 L127.77,403.87 L127.77,403.77 L127.96,403.77 L127.96,403.75 L129.07,403.75 L129.07,403.65 L130.81,403.65 L130.81,403.48 L132.05,403.48 L132.05,403.37 L133.42,403.37 L133.42,403.24 L135.22,403.24 L135.22,403.06 L136.17,403.06 L136.17,402.97 L137.51,402.97 L137.51,402.85 L138.50,402.85 L138.50,402.75 L139.60,402.75 L139.60,402.65 L141.20,402.65 L141.20,402.49 L142.40,402.49 L142.40,402.38 L144.32,402.38 L144.32,402.22 L146.27,402.22 L146.27,402.06 L147.42,402.06 L147.42,401.96 L148.49,401.96 L148.49,401.87 L150.65,401.87 L150.65,401.68 L151.78,401.68 L151.78,401.56 L152.86,401.56 L152.86,401.45 L154.26,401.45 L154.26,401.30 L155.26,401.30 L155.26,401.20 L156.51,401.20 L156.51,401.07 L157.31,401.07 L157.31,400.98 L159.06,400.98 L159.06,400.80 L160.27,400.80 L160.27,400.67 L160.62,400.67 L160.62,400.64 L160.63,400.64 L160.63,400.63 L162.43,400.63 L162.43,400.44 L163.62,400.44 L163.62,400.32 L164.51,400.32 L164.51,400.23 L165.81,400.23 L165.81,400.09 L166.91,400.09 L166.91,399.97 L168.56,399.97 L168.56,399.80 L169.37,399.80 L169.37,399.71 L170.84,399.71 L170.84,399.56 L171.59,399.56 L171.59,399.48 L173.03,399.48 L173.03,399.33 L173.25,399.33 L173.25,399.31 L174.49,399.31 L174.49,399.18 L175.37,399.18 L175.37,399.09 L177.11,399.09 L177.11,398.96 L178.80,398.96 L178.80,398.84 L179.17,398.84 L179.17,398.81 L180.85,398.81 L180.85,398.71 L184.70,398.71 L184.70,398.59 L188.60,398.59 L188.60,398.48 L192.79,398.48 L192.79,398.35 L197.32,398.35 L197.32,398.21 L200.87,398.21 L200.87,398.10 L205.76,398.10 L205.76,397.95 L209.22,397.95 L209.22,397.85 L210.98,397.85 L210.98,397.80 L213.93,397.80 L213.93,397.71 L217.50,397.71 L217.50,397.60 L222.22,397.60 L222.22,397.45 L226.14,397.45 L226.14,397.33 L229.55,397.33 L229.55,397.23 L230.02,397.23 L230.02,397.22 L234.20,397.22 L234.20,397.09 L238.41,397.09 L238.41,396.96 L240.30,396.96 L240.30,396.96" fill="none" stroke="#23466b" stroke-width="1.1" />
<path d="M44.40,406.30 L77.05,406.30 L77.32,406.30 L77.32,405.41 L77.43,405.41 L77.43,405.03 L77.68,405.03 L77.68,404.23 L77.86,404.23 L77.86,403.64 L78.11,403.64 L78.11,402.82 L78.51,402.82 L78.51,401.92 L79.03,401.92 L79.03,401.64 L80.46,401.64 L80.46,400.90 L82.72,400.90 L82.72,399.91 L84.09,399.91 L84.09,399.43 L86.54,399.43 L86.54,398.58 L88.66,398.58 L88.66,397.67 L89.70,397.67 L89.70,397.21 L91.30,397.21 L91.30,396.50 L93.67,396.50 L93.67,395.47 L94.93,395.47 L94.93,394.93 L96.93,394.93 L96.93,394.09 L98.06,394.09 L98.06,393.62 L101.65,393.62 L101.65,392.74 L104.56,392.74 L104.56,392.15 L106.28,392.15 L106.28,391.13 L106.92,391.13 L106.92,390.74 L109.00,390.74 L109.00,389.49 L109.32,389.49 L109.32,389.30 L111.39,389.30 L111.39,388.17 L112.17,388.17 L112.17,387.79 L113.87,387.79 L113.87,386.95 L115.00,386.95 L115.00,386.39 L115.88,386.39 L115.88,385.95 L116.55,385.95 L116.55,385.56 L117.80,385.56 L117.80,384.81 L117.99,384.81 L117.99,384.69 L119.52,384.69 L119.52,383.77 L120.44,383.77 L120.44,383.22 L121.33,383.22 L121.33,382.69 L123.48,382.69 L123.48,381.36 L123.81,381.36 L123.81,381.16 L124.84,381.16 L124.84,380.51 L126.36,380.51 L126.36,379.56 L127.77,379.56 L127.77,378.68 L129.12,378.68 L129.12,377.84 L129.65,377.84 L129.65,377.51 L131.50,377.51 L131.50,376.62 L132.83,376.62 L132.83,376.02 L134.87,376.02 L134.87,375.09 L136.82,375.09 L136.82,374.21 L138.67,374.21 L138.67,373.51 L140.87,373.51 L140.87,372.72 L142.76,372.72 L142.76,372.04 L144.91,372.04 L144.91,371.27 L146.80,371.27 L146.80,370.59 L148.61,370.59 L148.61,369.94 L149.65,369.94 L149.65,369.56 L150.82,369.56 L150.82,369.26 L155.32,369.26 L155.32,368.45 L159.07,368.45 L159.07,367.78 L162.53,367.78 L162.53,367.16 L164.58,367.16 L164.58,366.30 L166.71,366.30 L166.71,365.39 L167.78,365.39 L167.78,364.93 L169.94,364.93 L169.94,364.01 L171.47,364.01 L171.47,363.36 L173.55,363.36 L173.55,362.59 L173.57,362.59 L173.57,362.58 L175.30,362.58 L175.30,361.97 L178.14,361.97 L178.14,360.98 L178.94,360.98 L178.94,360.70 L179.58,360.70 L179.58,360.48 L182.04,360.48 L182.04,359.61 L183.90,359.61 L183.90,358.96 L186.28,358.96 L186.28,358.29 L190.16,358.29 L190.16,357.41 L190.89,357.41 L190.89,356.95 L192.03,356.95 L192.03,356.24 L194.70,356.24 L194.70,355.35 L198.91,355.35 L198.91,354.58 L207.68,354.58 L207.68,354.16 L221.13,354.16 L221.13,353.81 L229.09,353.81 L229.09,353.03 L229.55,353.03 L229.55,352.96 L232.64,352.96 L232.64,352.31 L234.73,352.31 L234.73,351.38 L239.41,351.38 L239.41,351.23 L240.30,351.23 L240.30,351.23" fill="none" stroke="#a8203f" stroke-width="1.1" />
<line x1="44.50" y1="272.80" x2="44.50" y2="409.50" stroke="#222" stroke-width="1.0" />
<line x1="40.50" y1="406.50" x2="243.30" y2="406.50" stroke="#222" stroke-width="1.0" />
<line x1="40.50" y1="380.50" x2="44.50" y2="380.50" stroke="#222" stroke-width="1" />
<line x1="40.50" y1="354.50" x2="44.50" y2="354.50" stroke="#222" stroke-width="1" />
<line x1="40.50" y1="328.50" x2="44.50" y2="328.50" stroke="#222" stroke-width="1" />
<line x1="40.50" y1="301.50" x2="44.50" y2="301.50" stroke="#222" stroke-width="1" />
<line x1="40.50" y1="275.50" x2="44.50" y2="275.50" stroke="#222" stroke-width="1" />
<text x="37.60" y="408.50" font-size="6.2" text-anchor="end" font-weight="normal" fill="#1c1c1c" stroke="#1c1c1c" stroke-width="0.18" >0</text>
<text x="37.60" y="382.40" font-size="6.2" text-anchor="end" font-weight="normal" fill="#1c1c1c" stroke="#1c1c1c" stroke-width="0.18" >20</text>
<text x="37.60" y="356.30" font-size="6.2" text-anchor="end" font-weight="normal" fill="#1c1c1c" stroke="#1c1c1c" stroke-width="0.18" >40</text>
<text x="37.60" y="330.20" font-size="6.2" text-anchor="end" font-weight="normal" fill="#1c1c1c" stroke="#1c1c1c" stroke-width="0.18" >60</text>
<text x="37.60" y="304.10" font-size="6.2" text-anchor="end" font-weight="normal" fill="#1c1c1c" stroke="#1c1c1c" stroke-width="0.18" >80</text>
<text x="37.60" y="278.00" font-size="6.2" text-anchor="end" font-weight="normal" fill="#1c1c1c" stroke="#1c1c1c" stroke-width="0.18" >100</text>
<line x1="77.50" y1="406.50" x2="77.50" y2="409.50" stroke="#222" stroke-width="1" />
<line x1="109.50" y1="406.50" x2="109.50" y2="409.50" stroke="#222" stroke-width="1" />
<line x1="142.50" y1="406.50" x2="142.50" y2="409.50" stroke="#222" stroke-width="1" />
<line x1="175.50" y1="406.50" x2="175.50" y2="409.50" stroke="#222" stroke-width="1" />
<line x1="207.50" y1="406.50" x2="207.50" y2="409.50" stroke="#222" stroke-width="1" />
<line x1="240.50" y1="406.50" x2="240.50" y2="409.50" stroke="#222" stroke-width="1" />
<text x="44.40" y="417.80" font-size="6.2" text-anchor="middle" font-weight="normal" fill="#1c1c1c" stroke="#1c1c1c" stroke-width="0.18" >0</text>
<text x="77.05" y="417.80" font-size="6.2" text-anchor="middle" font-weight="normal" fill="#1c1c1c" stroke="#1c1c1c" stroke-width="0.18" >1</text>
<text x="109.70" y="417.80" font-size="6.2" text-anchor="middle" font-weight="normal" fill="#1c1c1c" stroke="#1c1c1c" stroke-width="0.18" >2</text>
<text x="142.35" y="417.80" font-size="6.2" text-anchor="middle" font-weight="normal" fill="#1c1c1c" stroke="#1c1c1c" stroke-width="0.18" >3</text>
<text x="175.00" y="417.80" font-size="6.2" text-anchor="middle" font-weight="normal" fill="#1c1c1c" stroke="#1c1c1c" stroke-width="0.18" >4</text>
<text x="207.65" y="417.80" font-size="6.2" text-anchor="middle" font-weight="normal" fill="#1c1c1c" stroke="#1c1c1c" stroke-width="0.18" >5</text>
<text x="240.30" y="417.80" font-size="6.2" text-anchor="middle" font-weight="normal" fill="#1c1c1c" stroke="#1c1c1c" stroke-width="0.18" >6</text>
<text transform="translate(21.90,341.50) rotate(-90)" font-size="8.1" text-anchor="middle" fill="#1c1c1c" stroke="#1c1c1c" stroke-width="0.28" textLength="65" lengthAdjust="spacingAndGlyphs">Cumulative incidence (%)</text>
<text x="142.50" y="429.90" font-size="7.9" text-anchor="middle" font-weight="bold" fill="#1c1c1c" textLength="59.00" lengthAdjust="spacingAndGlyphs" stroke="#1c1c1c" stroke-width="0.2">Months from treatment</text>
<circle cx="65.40" cy="306.30" r="14.4" fill="#18578c"/>
<path d="M65.40,306.30 L65.40,291.90 A14.4,14.4 0 0 0 51.11,308.10 Z" fill="#cc1535" stroke="#e8dce4" stroke-width="0.7"/>
<text x="65.20" y="286.70" font-size="6.4" text-anchor="middle" font-weight="normal" fill="#1c1c1c" stroke="#1c1c1c" stroke-width="0.18" textLength="28.40" lengthAdjust="spacingAndGlyphs" >Proportion</text>
<line x1="176.00" y1="295.30" x2="188.50" y2="295.30" stroke="#3a6790" stroke-width="1.0" />
<line x1="176.00" y1="305.00" x2="188.50" y2="305.00" stroke="#c0405e" stroke-width="1.0" />
<text x="192.00" y="296.90" font-size="7.3" text-anchor="start" font-weight="normal" fill="#1c1c1c" stroke="#1c1c1c" stroke-width="0.18" textLength="26.00" lengthAdjust="spacingAndGlyphs" >Response</text>
<text x="192.00" y="306.70" font-size="7.3" text-anchor="start" font-weight="normal" fill="#1c1c1c" stroke="#1c1c1c" stroke-width="0.18" textLength="39.70" lengthAdjust="spacingAndGlyphs" >Non-Response</text>
<text x="205.80" y="323.20" font-size="6.8" fill="#1c1c1c" stroke="#1c1c1c" stroke-width="0.18" textLength="23" lengthAdjust="spacingAndGlyphs"><tspan font-style="italic">P</tspan> &lt; .001</text>
<text x="33.80" y="441.10" font-size="6.0" text-anchor="start" font-weight="normal" fill="#1c1c1c" stroke="#1c1c1c" stroke-width="0.18" textLength="92.00" lengthAdjust="spacingAndGlyphs" >Number at risk (number censored)</text>
<line x1="18.80" y1="448.90" x2="28.00" y2="448.90" stroke="#2e6f8f" stroke-width="1.1" />
<line x1="18.80" y1="459.00" x2="28.00" y2="459.00" stroke="#c23a55" stroke-width="1.1" />
<text x="33.65" y="451.50" font-size="6.3" text-anchor="start" font-weight="normal" fill="#1c1c1c" stroke="#1c1c1c" stroke-width="0.18" textLength="21.10" lengthAdjust="spacingAndGlyphs" >603 (0)</text>
<text x="97.85" y="451.50" font-size="6.3" text-anchor="start" font-weight="normal" fill="#1c1c1c" stroke="#1c1c1c" stroke-width="0.18" textLength="24.20" lengthAdjust="spacingAndGlyphs" >579 (19)</text>
<text x="162.55" y="451.50" font-size="6.3" text-anchor="start" font-weight="normal" fill="#1c1c1c" stroke="#1c1c1c" stroke-width="0.18" textLength="25.20" lengthAdjust="spacingAndGlyphs" >524 (53)</text>
<text x="227.85" y="451.50" font-size="6.3" text-anchor="start" font-weight="normal" fill="#1c1c1c" stroke="#1c1c1c" stroke-width="0.18" textLength="24.90" lengthAdjust="spacingAndGlyphs" >496 (72)</text>
<text x="33.65" y="461.50" font-size="6.3" text-anchor="start" font-weight="normal" fill="#1c1c1c" stroke="#1c1c1c" stroke-width="0.18" textLength="21.10" lengthAdjust="spacingAndGlyphs" >223 (0)</text>
<text x="99.45" y="461.50" font-size="6.3" text-anchor="start" font-weight="normal" fill="#1c1c1c" stroke="#1c1c1c" stroke-width="0.18" textLength="20.90" lengthAdjust="spacingAndGlyphs" >183 (8)</text>
<text x="164.15" y="461.50" font-size="6.3" text-anchor="start" font-weight="normal" fill="#1c1c1c" stroke="#1c1c1c" stroke-width="0.18" textLength="22.60" lengthAdjust="spacingAndGlyphs" >133 (17)</text>
<text x="228.55" y="461.50" font-size="6.3" text-anchor="start" font-weight="normal" fill="#1c1c1c" stroke="#1c1c1c" stroke-width="0.18" textLength="23.60" lengthAdjust="spacingAndGlyphs" >114 (21)</text>
<path d="M337.65,162.96 L342.71,162.96 L342.71,162.96 L357.96,162.96 L357.96,162.94 L358.83,162.94 L358.83,162.68 L359.15,162.68 L359.15,162.58 L359.95,162.58 L359.95,162.34 L363.16,162.34 L363.16,161.36 L365.79,161.36 L365.79,160.56 L366.88,160.56 L366.88,160.08 L368.83,160.08 L368.83,159.13 L369.41,159.13 L369.41,158.84 L379.59,158.84 L379.59,157.11 L386.83,157.11 L386.83,156.64 L393.89,156.64 L393.89,156.18 L404.63,156.18 L404.63,155.46 L414.14,155.46 L414.14,154.78 L414.83,154.78 L414.83,154.72 L419.58,154.72 L419.58,154.06 L425.21,154.06 L425.21,153.27 L430.03,153.27 L430.03,152.75 L434.15,152.75 L434.15,152.44 L435.57,152.44 L435.57,152.33 L455.00,152.33 L455.00,150.89 L461.43,150.89 L461.43,150.41 L464.12,150.41 L464.12,150.21 L469.42,150.21 L469.42,149.82 L478.95,149.82 L478.95,148.64 L481.12,148.64 L481.12,148.36 L481.13,148.36 L481.13,148.36 L481.22,148.36 L481.22,148.35 L481.40,148.35 L481.40,148.33 L500.90,148.33 L500.90,148.33 L500.90,158.29 L500.90,158.29 L481.40,158.29 L481.40,158.30 L481.22,158.30 L481.22,158.30 L481.13,158.30 L481.13,158.30 L481.12,158.30 L481.12,158.42 L478.95,158.42 L478.95,158.94 L469.42,158.94 L469.42,159.19 L464.12,159.19 L464.12,159.31 L461.43,159.31 L461.43,159.61 L455.00,159.61 L455.00,160.51 L435.57,160.51 L435.57,160.58 L434.15,160.58 L434.15,160.77 L430.03,160.77 L430.03,161.25 L425.21,161.25 L425.21,162.06 L419.58,162.06 L419.58,162.76 L414.83,162.76 L414.83,162.86 L414.14,162.86 L414.14,164.66 L404.63,164.66 L404.63,165.79 L393.89,165.79 L393.89,165.89 L386.83,165.89 L386.83,165.99 L379.59,165.99 L379.59,166.65 L369.41,166.65 L369.41,166.78 L368.83,166.78 L368.83,167.22 L366.88,167.22 L366.88,167.40 L365.79,167.40 L365.79,167.40 L363.16,167.40 L363.16,167.40 L359.95,167.40 L359.95,167.40 L359.15,167.40 L359.15,167.40 L358.83,167.40 L358.83,167.40 L357.96,167.40 L357.96,167.40 L342.71,167.40 L342.71,167.40 L337.65,167.40Z" fill="#b8cfe3" />
<path d="M309.57,167.40 L310.26,167.40 L310.26,162.63 L311.23,162.63 L311.23,159.99 L311.48,159.99 L311.48,159.31 L312.64,159.31 L312.64,156.14 L313.06,156.14 L313.06,155.01 L316.50,155.01 L316.50,152.62 L318.03,152.62 L318.03,152.01 L318.17,152.01 L318.17,151.96 L322.57,151.96 L322.57,149.99 L324.20,149.99 L324.20,148.76 L326.43,148.76 L326.43,147.06 L328.71,147.06 L328.71,145.34 L331.55,145.34 L331.55,143.03 L332.47,143.03 L332.47,141.99 L333.99,141.99 L333.99,140.25 L335.01,140.25 L335.01,139.09 L336.56,139.09 L336.56,137.34 L338.42,137.34 L338.42,136.07 L345.14,136.07 L345.14,133.64 L351.90,133.64 L351.90,131.58 L353.95,131.58 L353.95,131.01 L354.81,131.01 L354.81,130.80 L357.89,130.80 L357.89,130.02 L364.95,130.02 L364.95,128.07 L365.80,128.07 L365.80,127.81 L377.15,127.81 L377.15,123.78 L378.13,123.78 L378.13,123.06 L382.57,123.06 L382.57,121.00 L386.27,121.00 L386.27,119.87 L388.10,119.87 L388.10,119.31 L389.31,119.31 L389.31,118.94 L392.29,118.94 L392.29,117.44 L394.12,117.44 L394.12,116.13 L418.45,116.13 L418.45,112.99 L422.91,112.99 L422.91,111.78 L427.15,111.78 L427.15,110.44 L428.31,110.44 L428.31,109.68 L429.44,109.68 L429.44,108.53 L432.54,108.53 L432.54,106.85 L436.02,106.85 L436.02,106.10 L441.19,106.10 L441.19,105.00 L446.90,105.00 L446.90,103.49 L456.00,103.49 L456.00,101.26 L456.66,101.26 L456.66,101.17 L468.57,101.17 L468.57,99.70 L469.31,99.70 L469.31,99.61 L476.56,99.61 L476.56,99.54 L490.77,99.54 L490.77,97.70 L500.90,97.70 L500.90,97.70 L500.90,125.24 L500.90,125.24 L490.77,125.24 L490.77,125.78 L476.56,125.78 L476.56,126.11 L469.31,126.11 L469.31,126.20 L468.57,126.20 L468.57,127.76 L456.66,127.76 L456.66,127.85 L456.00,127.85 L456.00,129.66 L446.90,129.66 L446.90,130.84 L441.19,130.84 L441.19,131.75 L436.02,131.75 L436.02,132.36 L432.54,132.36 L432.54,133.18 L429.44,133.18 L429.44,133.61 L428.31,133.61 L428.31,134.06 L427.15,134.06 L427.15,135.71 L422.91,135.71 L422.91,137.15 L418.45,137.15 L418.45,140.05 L394.12,140.05 L394.12,141.12 L392.29,141.12 L392.29,142.28 L389.31,142.28 L389.31,142.54 L388.10,142.54 L388.10,142.93 L386.27,142.93 L386.27,143.71 L382.57,143.71 L382.57,145.50 L378.13,145.50 L378.13,146.22 L377.15,146.22 L377.15,148.20 L365.80,148.20 L365.80,148.29 L364.95,148.29 L364.95,149.43 L357.89,149.43 L357.89,150.24 L354.81,150.24 L354.81,151.39 L353.95,151.39 L353.95,152.81 L351.90,152.81 L351.90,153.78 L345.14,153.78 L345.14,155.72 L338.42,155.72 L338.42,156.90 L336.56,156.90 L336.56,158.62 L335.01,158.62 L335.01,159.76 L333.99,159.76 L333.99,161.46 L332.47,161.46 L332.47,162.48 L331.55,162.48 L331.55,164.06 L328.71,164.06 L328.71,165.10 L326.43,165.10 L326.43,166.13 L324.20,166.13 L324.20,166.87 L322.57,166.87 L322.57,167.22 L318.17,167.22 L318.17,167.22 L318.03,167.22 L318.03,167.25 L316.50,167.25 L316.50,167.33 L313.06,167.33 L313.06,167.34 L312.64,167.34 L312.64,167.36 L311.48,167.36 L311.48,167.37 L311.23,167.37 L311.23,167.39 L310.26,167.39 L310.26,167.40 L309.57,167.40Z" fill="#f1b5c3" />
<path d="M305.00,167.40 L337.65,167.40 L342.71,167.40 L342.71,167.40 L357.96,167.40 L357.96,167.32 L358.83,167.32 L358.83,166.27 L359.15,166.27 L359.15,165.89 L359.95,165.89 L359.95,165.03 L363.16,165.03 L363.16,164.42 L365.79,164.42 L365.79,163.93 L366.88,163.93 L366.88,163.41 L368.83,163.41 L368.83,162.30 L369.41,162.30 L369.41,161.98 L379.59,161.98 L379.59,161.21 L386.83,161.21 L386.83,160.87 L393.89,160.87 L393.89,160.52 L404.63,160.52 L404.63,159.89 L414.14,159.89 L414.14,159.22 L414.83,159.22 L414.83,159.16 L419.58,159.16 L419.58,158.59 L425.21,158.59 L425.21,157.92 L430.03,157.92 L430.03,157.32 L434.15,157.32 L434.15,156.79 L435.57,156.79 L435.57,156.61 L455.00,156.61 L455.00,156.44 L461.43,156.44 L461.43,156.24 L464.12,156.24 L464.12,155.93 L469.42,155.93 L469.42,155.32 L478.95,155.32 L478.95,155.26 L481.12,155.26 L481.12,154.22 L481.13,154.22 L481.13,154.20 L481.22,154.20 L481.22,153.99 L481.40,153.99 L481.40,153.59 L500.90,153.59 L500.90,153.59" fill="none" stroke="#23466b" stroke-width="1.1" />
<path d="M305.00,167.40 L309.57,167.40 L310.26,167.40 L310.26,166.14 L311.23,166.14 L311.23,164.37 L311.48,164.37 L311.48,163.91 L312.64,163.91 L312.64,161.78 L313.06,161.78 L313.06,161.02 L316.50,161.02 L316.50,159.57 L318.03,159.57 L318.03,159.25 L318.17,159.25 L318.17,159.22 L322.57,159.22 L322.57,158.04 L324.20,158.04 L324.20,157.07 L326.43,157.07 L326.43,155.70 L328.71,155.70 L328.71,154.22 L331.55,154.22 L331.55,152.21 L332.47,152.21 L332.47,151.26 L333.99,151.26 L333.99,149.69 L335.01,149.69 L335.01,148.64 L336.56,148.64 L336.56,147.05 L338.42,147.05 L338.42,146.18 L345.14,146.18 L345.14,145.67 L351.90,145.67 L351.90,144.27 L353.95,144.27 L353.95,142.58 L354.81,142.58 L354.81,141.26 L357.89,141.26 L357.89,139.86 L364.95,139.86 L364.95,138.60 L365.80,138.60 L365.80,138.47 L377.15,138.47 L377.15,136.61 L378.13,136.61 L378.13,135.59 L382.57,135.59 L382.57,134.29 L386.27,134.29 L386.27,132.96 L388.10,132.96 L388.10,132.23 L389.31,132.23 L389.31,131.74 L392.29,131.74 L392.29,129.92 L394.12,129.92 L394.12,128.64 L418.45,128.64 L418.45,127.24 L422.91,127.24 L422.91,125.99 L427.15,125.99 L427.15,125.00 L428.31,125.00 L428.31,124.40 L429.44,124.40 L429.44,123.44 L432.54,123.44 L432.54,121.68 L436.02,121.68 L436.02,120.37 L441.19,120.37 L441.19,119.03 L446.90,119.03 L446.90,117.69 L456.00,117.69 L456.00,116.17 L456.66,116.17 L456.66,116.11 L468.57,116.11 L468.57,114.37 L469.31,114.37 L469.31,113.73 L476.56,113.73 L476.56,113.24 L490.77,113.24 L490.77,111.62 L500.90,111.62 L500.90,111.62" fill="none" stroke="#a8203f" stroke-width="1.1" />
<line x1="305.50" y1="33.90" x2="305.50" y2="170.50" stroke="#222" stroke-width="1.0" />
<line x1="301.50" y1="167.50" x2="503.90" y2="167.50" stroke="#222" stroke-width="1.0" />
<line x1="301.50" y1="141.50" x2="305.50" y2="141.50" stroke="#222" stroke-width="1" />
<line x1="301.50" y1="115.50" x2="305.50" y2="115.50" stroke="#222" stroke-width="1" />
<line x1="301.50" y1="89.50" x2="305.50" y2="89.50" stroke="#222" stroke-width="1" />
<line x1="301.50" y1="63.50" x2="305.50" y2="63.50" stroke="#222" stroke-width="1" />
<line x1="301.50" y1="36.50" x2="305.50" y2="36.50" stroke="#222" stroke-width="1" />
<text x="298.20" y="169.60" font-size="6.2" text-anchor="end" font-weight="normal" fill="#1c1c1c" stroke="#1c1c1c" stroke-width="0.18" >0</text>
<text x="298.20" y="143.50" font-size="6.2" text-anchor="end" font-weight="normal" fill="#1c1c1c" stroke="#1c1c1c" stroke-width="0.18" >20</text>
<text x="298.20" y="117.40" font-size="6.2" text-anchor="end" font-weight="normal" fill="#1c1c1c" stroke="#1c1c1c" stroke-width="0.18" >40</text>
<text x="298.20" y="91.30" font-size="6.2" text-anchor="end" font-weight="normal" fill="#1c1c1c" stroke="#1c1c1c" stroke-width="0.18" >60</text>
<text x="298.20" y="65.20" font-size="6.2" text-anchor="end" font-weight="normal" fill="#1c1c1c" stroke="#1c1c1c" stroke-width="0.18" >80</text>
<text x="298.20" y="39.10" font-size="6.2" text-anchor="end" font-weight="normal" fill="#1c1c1c" stroke="#1c1c1c" stroke-width="0.18" >100</text>
<line x1="337.50" y1="167.50" x2="337.50" y2="170.50" stroke="#222" stroke-width="1" />
<line x1="370.50" y1="167.50" x2="370.50" y2="170.50" stroke="#222" stroke-width="1" />
<line x1="402.50" y1="167.50" x2="402.50" y2="170.50" stroke="#222" stroke-width="1" />
<line x1="435.50" y1="167.50" x2="435.50" y2="170.50" stroke="#222" stroke-width="1" />
<line x1="468.50" y1="167.50" x2="468.50" y2="170.50" stroke="#222" stroke-width="1" />
<line x1="500.50" y1="167.50" x2="500.50" y2="170.50" stroke="#222" stroke-width="1" />
<text x="305.00" y="178.90" font-size="6.2" text-anchor="middle" font-weight="normal" fill="#1c1c1c" stroke="#1c1c1c" stroke-width="0.18" >0</text>
<text x="337.65" y="178.90" font-size="6.2" text-anchor="middle" font-weight="normal" fill="#1c1c1c" stroke="#1c1c1c" stroke-width="0.18" >1</text>
<text x="370.30" y="178.90" font-size="6.2" text-anchor="middle" font-weight="normal" fill="#1c1c1c" stroke="#1c1c1c" stroke-width="0.18" >2</text>
<text x="402.95" y="178.90" font-size="6.2" text-anchor="middle" font-weight="normal" fill="#1c1c1c" stroke="#1c1c1c" stroke-width="0.18" >3</text>
<text x="435.60" y="178.90" font-size="6.2" text-anchor="middle" font-weight="normal" fill="#1c1c1c" stroke="#1c1c1c" stroke-width="0.18" >4</text>
<text x="468.25" y="178.90" font-size="6.2" text-anchor="middle" font-weight="normal" fill="#1c1c1c" stroke="#1c1c1c" stroke-width="0.18" >5</text>
<text x="500.90" y="178.90" font-size="6.2" text-anchor="middle" font-weight="normal" fill="#1c1c1c" stroke="#1c1c1c" stroke-width="0.18" >6</text>
<text transform="translate(282.50,102.60) rotate(-90)" font-size="8.1" text-anchor="middle" fill="#1c1c1c" stroke="#1c1c1c" stroke-width="0.28" textLength="65" lengthAdjust="spacingAndGlyphs">Cumulative incidence (%)</text>
<text x="403.10" y="191.00" font-size="7.9" text-anchor="middle" font-weight="bold" fill="#1c1c1c" textLength="59.00" lengthAdjust="spacingAndGlyphs" stroke="#1c1c1c" stroke-width="0.2">Months from treatment</text>
<circle cx="326.00" cy="67.40" r="14.4" fill="#18578c"/>
<path d="M326.00,67.40 L326.00,53.00 A14.4,14.4 0 0 0 312.63,72.76 Z" fill="#cc1535" stroke="#e8dce4" stroke-width="0.7"/>
<text x="325.80" y="47.80" font-size="6.4" text-anchor="middle" font-weight="normal" fill="#1c1c1c" stroke="#1c1c1c" stroke-width="0.18" textLength="28.40" lengthAdjust="spacingAndGlyphs" >Proportion</text>
<text x="470.70" y="78.00" font-size="6.8" fill="#1c1c1c" stroke="#1c1c1c" stroke-width="0.18" textLength="23" lengthAdjust="spacingAndGlyphs"><tspan font-style="italic">P</tspan> &lt; .001</text>
<text x="294.40" y="202.20" font-size="6.0" text-anchor="start" font-weight="normal" fill="#1c1c1c" stroke="#1c1c1c" stroke-width="0.18" textLength="92.00" lengthAdjust="spacingAndGlyphs" >Number at risk (number censored)</text>
<line x1="279.40" y1="210.00" x2="288.60" y2="210.00" stroke="#2e6f8f" stroke-width="1.1" />
<line x1="279.40" y1="220.10" x2="288.60" y2="220.10" stroke="#c23a55" stroke-width="1.1" />
<text x="294.65" y="212.60" font-size="6.3" text-anchor="start" font-weight="normal" fill="#1c1c1c" stroke="#1c1c1c" stroke-width="0.18" textLength="21.20" lengthAdjust="spacingAndGlyphs" >213 (0)</text>
<text x="360.15" y="212.60" font-size="6.3" text-anchor="start" font-weight="normal" fill="#1c1c1c" stroke="#1c1c1c" stroke-width="0.18" textLength="20.20" lengthAdjust="spacingAndGlyphs" >201 (6)</text>
<text x="423.90" y="212.60" font-size="6.3" text-anchor="start" font-weight="normal" fill="#1c1c1c" stroke="#1c1c1c" stroke-width="0.18" textLength="20.20" lengthAdjust="spacingAndGlyphs" >172 (26)</text>
<text x="489.65" y="212.60" font-size="6.3" text-anchor="start" font-weight="normal" fill="#1c1c1c" stroke="#1c1c1c" stroke-width="0.18" textLength="23.20" lengthAdjust="spacingAndGlyphs" >148(44)</text>
<text x="296.40" y="222.60" font-size="6.3" text-anchor="start" font-weight="normal" fill="#1c1c1c" stroke="#1c1c1c" stroke-width="0.18" textLength="17.70" lengthAdjust="spacingAndGlyphs" >96 (0)</text>
<text x="360.15" y="222.60" font-size="6.3" text-anchor="start" font-weight="normal" fill="#1c1c1c" stroke="#1c1c1c" stroke-width="0.18" textLength="20.20" lengthAdjust="spacingAndGlyphs" >65 (11)</text>
<text x="425.90" y="222.60" font-size="6.3" text-anchor="start" font-weight="normal" fill="#1c1c1c" stroke="#1c1c1c" stroke-width="0.18" textLength="19.95" lengthAdjust="spacingAndGlyphs" >47 (19)</text>
<text x="490.90" y="222.60" font-size="6.3" text-anchor="start" font-weight="normal" fill="#1c1c1c" stroke="#1c1c1c" stroke-width="0.18" textLength="21.20" lengthAdjust="spacingAndGlyphs" >39 (22)</text>
<path d="M337.65,406.10 L351.81,406.10 L351.81,402.46 L366.67,402.46 L366.67,400.85 L370.04,400.85 L370.04,400.62 L370.56,400.62 L370.56,400.58 L371.50,400.58 L371.50,400.52 L392.33,400.52 L392.33,398.42 L392.65,398.42 L392.65,398.39 L393.30,398.39 L393.30,398.32 L394.14,398.32 L394.14,398.26 L400.22,398.26 L400.22,398.07 L409.90,398.07 L409.90,397.77 L411.49,397.77 L411.49,397.72 L413.84,397.72 L413.84,397.64 L415.63,397.64 L415.63,397.29 L419.77,397.29 L419.77,395.85 L420.25,395.85 L420.25,395.77 L427.22,395.77 L427.22,395.31 L434.91,395.31 L434.91,394.81 L436.56,394.81 L436.56,394.70 L444.51,394.70 L444.51,394.22 L447.31,394.22 L447.31,394.05 L455.68,394.05 L455.68,393.57 L457.13,393.57 L457.13,393.49 L466.02,393.49 L466.02,392.92 L471.56,392.92 L471.56,392.40 L476.60,392.40 L476.60,391.93 L477.17,391.93 L477.17,391.88 L481.32,391.88 L481.32,391.49 L483.25,391.49 L483.25,391.31 L495.23,391.31 L495.23,390.19 L500.90,390.19 L500.90,390.19 L500.90,400.17 L500.90,400.17 L495.23,400.17 L495.23,400.60 L483.25,400.60 L483.25,400.67 L481.32,400.67 L481.32,400.82 L477.17,400.82 L477.17,400.84 L476.60,400.84 L476.60,401.02 L471.56,401.02 L471.56,401.22 L466.02,401.22 L466.02,401.51 L457.13,401.51 L457.13,401.55 L455.68,401.55 L455.68,401.82 L447.31,401.82 L447.31,401.91 L444.51,401.91 L444.51,402.27 L436.56,402.27 L436.56,402.38 L434.91,402.38 L434.91,402.88 L427.22,402.88 L427.22,403.33 L420.25,403.33 L420.25,403.36 L419.77,403.36 L419.77,403.63 L415.63,403.63 L415.63,403.75 L413.84,403.75 L413.84,403.90 L411.49,403.90 L411.49,404.01 L409.90,404.01 L409.90,404.87 L400.22,404.87 L400.22,405.42 L394.14,405.42 L394.14,405.70 L393.30,405.70 L393.30,406.03 L392.65,406.03 L392.65,406.10 L392.33,406.10 L392.33,406.10 L371.50,406.10 L371.50,406.10 L370.56,406.10 L370.56,406.10 L370.04,406.10 L370.04,406.10 L366.67,406.10 L366.67,406.10 L351.81,406.10 L351.81,406.10 L337.65,406.10Z" fill="#b8cfe3" />
<path d="M309.57,406.10 L310.02,406.10 L310.02,402.93 L310.60,402.93 L310.60,401.54 L312.39,401.54 L312.39,397.26 L313.28,397.26 L313.28,395.12 L316.41,395.12 L316.41,393.00 L317.76,393.00 L317.76,392.25 L322.58,392.25 L322.58,389.46 L325.47,389.46 L325.47,387.28 L327.53,387.28 L327.53,385.72 L330.23,385.72 L330.23,383.68 L332.20,383.68 L332.20,381.48 L333.21,381.48 L333.21,380.06 L334.46,380.06 L334.46,378.30 L335.98,378.30 L335.98,376.16 L337.25,376.16 L337.25,374.37 L343.54,374.37 L343.54,371.88 L347.12,371.88 L347.12,370.73 L353.77,370.73 L353.77,367.34 L355.00,367.34 L355.00,364.71 L356.08,364.71 L356.08,364.07 L358.10,364.07 L358.10,362.87 L361.17,362.87 L361.17,361.07 L365.47,361.07 L365.47,358.35 L369.05,358.35 L369.05,356.06 L372.27,356.06 L372.27,354.37 L372.91,354.37 L372.91,354.06 L374.98,354.06 L374.98,353.07 L376.86,353.07 L376.86,352.16 L379.13,352.16 L379.13,351.08 L381.02,351.08 L381.02,350.39 L386.97,350.39 L386.97,348.57 L390.79,348.57 L390.79,347.40 L391.88,347.40 L391.88,344.37 L397.39,344.37 L397.39,343.97 L418.60,343.97 L418.60,341.69 L426.71,341.69 L426.71,337.49 L427.58,337.49 L427.58,337.04 L427.64,337.04 L427.64,337.00 L431.60,337.00 L431.60,335.86 L437.39,335.86 L437.39,334.23 L442.98,334.23 L442.98,332.88 L443.01,332.88 L443.01,332.88 L449.39,332.88 L449.39,331.54 L458.73,331.54 L458.73,329.05 L464.42,329.05 L464.42,327.35 L480.99,327.35 L480.99,327.28 L489.25,327.28 L489.25,326.07 L492.24,326.07 L492.24,325.19 L500.90,325.19 L500.90,325.19 L500.90,353.22 L500.90,353.22 L492.24,353.22 L492.24,353.43 L489.25,353.43 L489.25,354.03 L480.99,354.03 L480.99,355.26 L464.42,355.26 L464.42,356.65 L458.73,356.65 L458.73,358.60 L449.39,358.60 L449.39,359.56 L443.01,359.56 L443.01,359.56 L442.98,359.56 L442.98,360.75 L437.39,360.75 L437.39,362.44 L431.60,362.44 L431.60,363.63 L427.64,363.63 L427.64,363.66 L427.58,363.66 L427.58,364.13 L426.71,364.13 L426.71,368.44 L418.60,368.44 L418.60,370.27 L397.39,370.27 L397.39,370.47 L391.88,370.47 L391.88,372.85 L390.79,372.85 L390.79,374.01 L386.97,374.01 L386.97,375.83 L381.02,375.83 L381.02,376.52 L379.13,376.52 L379.13,377.61 L376.86,377.61 L376.86,378.51 L374.98,378.51 L374.98,379.50 L372.91,379.50 L372.91,379.81 L372.27,379.81 L372.27,381.47 L369.05,381.47 L369.05,383.65 L365.47,383.65 L365.47,386.06 L361.17,386.06 L361.17,386.93 L358.10,386.93 L358.10,387.51 L356.08,387.51 L356.08,387.82 L355.00,387.82 L355.00,389.81 L353.77,389.81 L353.77,391.94 L347.12,391.94 L347.12,392.45 L343.54,392.45 L343.54,393.39 L337.25,393.39 L337.25,394.70 L335.98,394.70 L335.98,396.27 L334.46,396.27 L334.46,397.55 L333.21,397.55 L333.21,398.59 L332.20,398.59 L332.20,400.28 L330.23,400.28 L330.23,402.01 L327.53,402.01 L327.53,403.34 L325.47,403.34 L325.47,405.19 L322.58,405.19 L322.58,405.76 L317.76,405.76 L317.76,405.81 L316.41,405.81 L316.41,405.94 L313.28,405.94 L313.28,405.98 L312.39,405.98 L312.39,406.06 L310.60,406.06 L310.60,406.08 L310.02,406.08 L310.02,406.10 L309.57,406.10Z" fill="#f1b5c3" />
<path d="M305.00,406.10 L337.65,406.10 L351.81,406.10 L351.81,406.10 L366.67,406.10 L366.67,406.10 L370.04,406.10 L370.04,406.05 L370.56,406.05 L370.56,405.67 L371.50,405.67 L371.50,404.98 L392.33,404.98 L392.33,404.66 L392.65,404.66 L392.65,404.46 L393.30,404.46 L393.30,403.54 L394.14,403.54 L394.14,402.82 L400.22,402.82 L400.22,402.52 L409.90,402.52 L409.90,402.03 L411.49,402.03 L411.49,401.66 L413.84,401.66 L413.84,401.10 L415.63,401.10 L415.63,400.68 L419.77,400.68 L419.77,400.18 L420.25,400.18 L420.25,400.15 L427.22,400.15 L427.22,399.72 L434.91,399.72 L434.91,399.23 L436.56,399.23 L436.56,399.13 L444.51,399.13 L444.51,398.73 L447.31,398.73 L447.31,398.61 L455.68,398.61 L455.68,398.26 L457.13,398.26 L457.13,398.20 L466.02,398.20 L466.02,397.76 L471.56,397.76 L471.56,397.29 L476.60,397.29 L476.60,396.87 L477.17,396.87 L477.17,396.82 L481.32,396.82 L481.32,396.47 L483.25,396.47 L483.25,396.38 L495.23,396.38 L495.23,395.89 L500.90,395.89 L500.90,395.89" fill="none" stroke="#23466b" stroke-width="1.1" />
<path d="M305.00,406.10 L309.57,406.10 L310.02,406.10 L310.02,405.30 L310.60,405.30 L310.60,404.28 L312.39,404.28 L312.39,401.13 L313.28,401.13 L313.28,399.56 L316.41,399.56 L316.41,398.60 L317.76,398.60 L317.76,398.33 L322.58,398.33 L322.58,397.05 L325.47,397.05 L325.47,394.93 L327.53,394.93 L327.53,393.51 L330.23,393.51 L330.23,391.70 L332.20,391.70 L332.20,389.77 L333.21,389.77 L333.21,388.54 L334.46,388.54 L334.46,387.02 L335.98,387.02 L335.98,385.17 L337.25,385.17 L337.25,383.62 L343.54,383.62 L343.54,382.55 L347.12,382.55 L347.12,382.02 L353.77,382.02 L353.77,380.45 L355.00,380.45 L355.00,379.31 L356.08,379.31 L356.08,378.35 L358.10,378.35 L358.10,377.23 L361.17,377.23 L361.17,375.53 L365.47,375.53 L365.47,373.59 L369.05,373.59 L369.05,372.05 L372.27,372.05 L372.27,370.27 L372.91,370.27 L372.91,369.89 L374.98,369.89 L374.98,368.65 L376.86,368.65 L376.86,367.08 L379.13,367.08 L379.13,364.74 L381.02,364.74 L381.02,363.74 L386.97,363.74 L386.97,362.04 L390.79,362.04 L390.79,360.71 L391.88,360.71 L391.88,358.21 L397.39,358.21 L397.39,358.21 L418.60,358.21 L418.60,357.15 L426.71,357.15 L426.71,355.82 L427.58,355.82 L427.58,352.64 L427.64,352.64 L427.64,352.41 L431.60,352.41 L431.60,350.31 L437.39,350.31 L437.39,348.57 L442.98,348.57 L442.98,347.13 L443.01,347.13 L443.01,347.12 L449.39,347.12 L449.39,345.46 L458.73,345.46 L458.73,343.73 L464.42,343.73 L464.42,341.48 L480.99,341.48 L480.99,340.98 L489.25,340.98 L489.25,340.15 L492.24,340.15 L492.24,339.55 L500.90,339.55 L500.90,339.55" fill="none" stroke="#a8203f" stroke-width="1.1" />
<line x1="305.50" y1="272.60" x2="305.50" y2="409.50" stroke="#222" stroke-width="1.0" />
<line x1="301.50" y1="406.50" x2="503.90" y2="406.50" stroke="#222" stroke-width="1.0" />
<line x1="301.50" y1="380.50" x2="305.50" y2="380.50" stroke="#222" stroke-width="1" />
<line x1="301.50" y1="353.50" x2="305.50" y2="353.50" stroke="#222" stroke-width="1" />
<line x1="301.50" y1="327.50" x2="305.50" y2="327.50" stroke="#222" stroke-width="1" />
<line x1="301.50" y1="301.50" x2="305.50" y2="301.50" stroke="#222" stroke-width="1" />
<line x1="301.50" y1="275.50" x2="305.50" y2="275.50" stroke="#222" stroke-width="1" />
<text x="298.20" y="408.30" font-size="6.2" text-anchor="end" font-weight="normal" fill="#1c1c1c" stroke="#1c1c1c" stroke-width="0.18" >0</text>
<text x="298.20" y="382.20" font-size="6.2" text-anchor="end" font-weight="normal" fill="#1c1c1c" stroke="#1c1c1c" stroke-width="0.18" >20</text>
<text x="298.20" y="356.10" font-size="6.2" text-anchor="end" font-weight="normal" fill="#1c1c1c" stroke="#1c1c1c" stroke-width="0.18" >40</text>
<text x="298.20" y="330.00" font-size="6.2" text-anchor="end" font-weight="normal" fill="#1c1c1c" stroke="#1c1c1c" stroke-width="0.18" >60</text>
<text x="298.20" y="303.90" font-size="6.2" text-anchor="end" font-weight="normal" fill="#1c1c1c" stroke="#1c1c1c" stroke-width="0.18" >80</text>
<text x="298.20" y="277.80" font-size="6.2" text-anchor="end" font-weight="normal" fill="#1c1c1c" stroke="#1c1c1c" stroke-width="0.18" >100</text>
<line x1="337.50" y1="406.50" x2="337.50" y2="409.50" stroke="#222" stroke-width="1" />
<line x1="370.50" y1="406.50" x2="370.50" y2="409.50" stroke="#222" stroke-width="1" />
<line x1="402.50" y1="406.50" x2="402.50" y2="409.50" stroke="#222" stroke-width="1" />
<line x1="435.50" y1="406.50" x2="435.50" y2="409.50" stroke="#222" stroke-width="1" />
<line x1="468.50" y1="406.50" x2="468.50" y2="409.50" stroke="#222" stroke-width="1" />
<line x1="500.50" y1="406.50" x2="500.50" y2="409.50" stroke="#222" stroke-width="1" />
<text x="305.00" y="417.60" font-size="6.2" text-anchor="middle" font-weight="normal" fill="#1c1c1c" stroke="#1c1c1c" stroke-width="0.18" >0</text>
<text x="337.65" y="417.60" font-size="6.2" text-anchor="middle" font-weight="normal" fill="#1c1c1c" stroke="#1c1c1c" stroke-width="0.18" >1</text>
<text x="370.30" y="417.60" font-size="6.2" text-anchor="middle" font-weight="normal" fill="#1c1c1c" stroke="#1c1c1c" stroke-width="0.18" >2</text>
<text x="402.95" y="417.60" font-size="6.2" text-anchor="middle" font-weight="normal" fill="#1c1c1c" stroke="#1c1c1c" stroke-width="0.18" >3</text>
<text x="435.60" y="417.60" font-size="6.2" text-anchor="middle" font-weight="normal" fill="#1c1c1c" stroke="#1c1c1c" stroke-width="0.18" >4</text>
<text x="468.25" y="417.60" font-size="6.2" text-anchor="middle" font-weight="normal" fill="#1c1c1c" stroke="#1c1c1c" stroke-width="0.18" >5</text>
<text x="500.90" y="417.60" font-size="6.2" text-anchor="middle" font-weight="normal" fill="#1c1c1c" stroke="#1c1c1c" stroke-width="0.18" >6</text>
<text transform="translate(282.50,341.30) rotate(-90)" font-size="8.1" text-anchor="middle" fill="#1c1c1c" stroke="#1c1c1c" stroke-width="0.28" textLength="65" lengthAdjust="spacingAndGlyphs">Cumulative incidence (%)</text>
<text x="403.10" y="429.70" font-size="7.9" text-anchor="middle" font-weight="bold" fill="#1c1c1c" textLength="59.00" lengthAdjust="spacingAndGlyphs" stroke="#1c1c1c" stroke-width="0.2">Months from treatment</text>
<circle cx="326.00" cy="306.10" r="14.4" fill="#18578c"/>
<path d="M326.00,306.10 L326.00,291.70 A14.4,14.4 0 0 0 312.53,311.19 Z" fill="#cc1535" stroke="#e8dce4" stroke-width="0.7"/>
<text x="325.80" y="286.50" font-size="6.4" text-anchor="middle" font-weight="normal" fill="#1c1c1c" stroke="#1c1c1c" stroke-width="0.18" textLength="28.40" lengthAdjust="spacingAndGlyphs" >Proportion</text>
<text x="471.60" y="317.10" font-size="6.8" fill="#1c1c1c" stroke="#1c1c1c" stroke-width="0.18" textLength="23" lengthAdjust="spacingAndGlyphs"><tspan font-style="italic">P</tspan> &lt; .001</text>
<text x="294.40" y="440.90" font-size="6.0" text-anchor="start" font-weight="normal" fill="#1c1c1c" stroke="#1c1c1c" stroke-width="0.18" textLength="92.00" lengthAdjust="spacingAndGlyphs" >Number at risk (number censored)</text>
<line x1="279.40" y1="448.70" x2="288.60" y2="448.70" stroke="#2e6f8f" stroke-width="1.1" />
<line x1="279.40" y1="458.80" x2="288.60" y2="458.80" stroke="#c23a55" stroke-width="1.1" />
<text x="294.65" y="451.30" font-size="6.3" text-anchor="start" font-weight="normal" fill="#1c1c1c" stroke="#1c1c1c" stroke-width="0.18" textLength="21.20" lengthAdjust="spacingAndGlyphs" >214 (0)</text>
<text x="360.15" y="451.30" font-size="6.3" text-anchor="start" font-weight="normal" fill="#1c1c1c" stroke="#1c1c1c" stroke-width="0.18" textLength="20.20" lengthAdjust="spacingAndGlyphs" >207 (5)</text>
<text x="423.90" y="451.30" font-size="6.3" text-anchor="start" font-weight="normal" fill="#1c1c1c" stroke="#1c1c1c" stroke-width="0.18" textLength="20.20" lengthAdjust="spacingAndGlyphs" >176 (29)</text>
<text x="489.15" y="451.30" font-size="6.3" text-anchor="start" font-weight="normal" fill="#1c1c1c" stroke="#1c1c1c" stroke-width="0.18" textLength="23.70" lengthAdjust="spacingAndGlyphs" >152 (48)</text>
<text x="296.40" y="461.30" font-size="6.3" text-anchor="start" font-weight="normal" fill="#1c1c1c" stroke="#1c1c1c" stroke-width="0.18" textLength="17.70" lengthAdjust="spacingAndGlyphs" >95 (0)</text>
<text x="360.15" y="461.30" font-size="6.3" text-anchor="start" font-weight="normal" fill="#1c1c1c" stroke="#1c1c1c" stroke-width="0.18" textLength="20.20" lengthAdjust="spacingAndGlyphs" >59 (12)</text>
<text x="425.40" y="461.30" font-size="6.3" text-anchor="start" font-weight="normal" fill="#1c1c1c" stroke="#1c1c1c" stroke-width="0.18" textLength="20.45" lengthAdjust="spacingAndGlyphs" >43 (16)</text>
<text x="490.40" y="461.30" font-size="6.3" text-anchor="start" font-weight="normal" fill="#1c1c1c" stroke="#1c1c1c" stroke-width="0.18" textLength="21.70" lengthAdjust="spacingAndGlyphs" >35 (18)</text>
<line x1="78.00" y1="623.60" x2="237.30" y2="477.70" stroke="#a9a9a9" stroke-width="1"/>
<path d="M84.40,618.10 L105.70,553.10 L231.50,482.90" fill="none" stroke="#1f4262" stroke-width="1.4" stroke-linejoin="miter"/>
<path d="M84.40,618.10 L112.20,520.80 L231.50,482.90" fill="none" stroke="#bb2750" stroke-width="1.4" stroke-linejoin="miter"/>
<rect x="78.00" y="477.70" width="159.30" height="145.90" fill="none" stroke="#333" stroke-width="1.4"/>
<line x1="75.00" y1="618.10" x2="78.00" y2="618.10" stroke="#333" stroke-width="1" />
<text x="72.60" y="620.30" font-size="6.3" text-anchor="end" font-weight="normal" fill="#1c1c1c" stroke="#1c1c1c" stroke-width="0.18" textLength="9.00" lengthAdjust="spacingAndGlyphs" >0.0</text>
<line x1="231.50" y1="623.60" x2="231.50" y2="626.60" stroke="#333" stroke-width="1" />
<text x="231.50" y="635.70" font-size="6.3" text-anchor="middle" font-weight="normal" fill="#1c1c1c" stroke="#1c1c1c" stroke-width="0.18" textLength="9.00" lengthAdjust="spacingAndGlyphs" >0.0</text>
<line x1="75.00" y1="591.06" x2="78.00" y2="591.06" stroke="#333" stroke-width="1" />
<text x="72.60" y="593.26" font-size="6.3" text-anchor="end" font-weight="normal" fill="#1c1c1c" stroke="#1c1c1c" stroke-width="0.18" textLength="9.00" lengthAdjust="spacingAndGlyphs" >0.2</text>
<line x1="202.08" y1="623.60" x2="202.08" y2="626.60" stroke="#333" stroke-width="1" />
<text x="202.08" y="635.70" font-size="6.3" text-anchor="middle" font-weight="normal" fill="#1c1c1c" stroke="#1c1c1c" stroke-width="0.18" textLength="9.00" lengthAdjust="spacingAndGlyphs" >0.2</text>
<line x1="75.00" y1="564.02" x2="78.00" y2="564.02" stroke="#333" stroke-width="1" />
<text x="72.60" y="566.22" font-size="6.3" text-anchor="end" font-weight="normal" fill="#1c1c1c" stroke="#1c1c1c" stroke-width="0.18" textLength="9.00" lengthAdjust="spacingAndGlyphs" >0.4</text>
<line x1="172.66" y1="623.60" x2="172.66" y2="626.60" stroke="#333" stroke-width="1" />
<text x="172.66" y="635.70" font-size="6.3" text-anchor="middle" font-weight="normal" fill="#1c1c1c" stroke="#1c1c1c" stroke-width="0.18" textLength="9.00" lengthAdjust="spacingAndGlyphs" >0.4</text>
<line x1="75.00" y1="536.98" x2="78.00" y2="536.98" stroke="#333" stroke-width="1" />
<text x="72.60" y="539.18" font-size="6.3" text-anchor="end" font-weight="normal" fill="#1c1c1c" stroke="#1c1c1c" stroke-width="0.18" textLength="9.00" lengthAdjust="spacingAndGlyphs" >0.6</text>
<line x1="143.24" y1="623.60" x2="143.24" y2="626.60" stroke="#333" stroke-width="1" />
<text x="143.24" y="635.70" font-size="6.3" text-anchor="middle" font-weight="normal" fill="#1c1c1c" stroke="#1c1c1c" stroke-width="0.18" textLength="9.00" lengthAdjust="spacingAndGlyphs" >0.6</text>
<line x1="75.00" y1="509.94" x2="78.00" y2="509.94" stroke="#333" stroke-width="1" />
<text x="72.60" y="512.14" font-size="6.3" text-anchor="end" font-weight="normal" fill="#1c1c1c" stroke="#1c1c1c" stroke-width="0.18" textLength="9.00" lengthAdjust="spacingAndGlyphs" >0.8</text>
<line x1="113.82" y1="623.60" x2="113.82" y2="626.60" stroke="#333" stroke-width="1" />
<text x="113.82" y="635.70" font-size="6.3" text-anchor="middle" font-weight="normal" fill="#1c1c1c" stroke="#1c1c1c" stroke-width="0.18" textLength="9.00" lengthAdjust="spacingAndGlyphs" >0.8</text>
<line x1="75.00" y1="482.90" x2="78.00" y2="482.90" stroke="#333" stroke-width="1" />
<text x="72.60" y="485.10" font-size="6.3" text-anchor="end" font-weight="normal" fill="#1c1c1c" stroke="#1c1c1c" stroke-width="0.18" textLength="9.00" lengthAdjust="spacingAndGlyphs" >1.0</text>
<line x1="84.40" y1="623.60" x2="84.40" y2="626.60" stroke="#333" stroke-width="1" />
<text x="84.40" y="635.70" font-size="6.3" text-anchor="middle" font-weight="normal" fill="#1c1c1c" stroke="#1c1c1c" stroke-width="0.18" textLength="9.00" lengthAdjust="spacingAndGlyphs" >1.0</text>
<text x="95.90" y="495.50" font-size="7.0" text-anchor="start" font-weight="normal" fill="#1c1c1c" stroke="#1c1c1c" stroke-width="0.18" textLength="76.60" lengthAdjust="spacingAndGlyphs" >MAGIC composite response</text>
<text x="129.40" y="555.40" font-size="6.4" text-anchor="middle" font-weight="normal" fill="#1c1c1c" stroke="#1c1c1c" stroke-width="0.18" textLength="19.50" lengthAdjust="spacingAndGlyphs" >Clinical</text>
<text x="129.40" y="563.20" font-size="6.4" text-anchor="middle" font-weight="normal" fill="#1c1c1c" stroke="#1c1c1c" stroke-width="0.18" textLength="24.70" lengthAdjust="spacingAndGlyphs" >response</text>
<text x="225.60" y="617.6" font-size="6.3" text-anchor="end" fill="#1c1c1c" stroke="#1c1c1c" stroke-width="0.18" textLength="76" lengthAdjust="spacingAndGlyphs">AUC: 0.76 vs. 0.67, <tspan font-style="italic">P</tspan> &lt; .001</text>
<text x="157.80" y="647.60" font-size="7.9" text-anchor="middle" font-weight="bold" fill="#1c1c1c" textLength="26.00" lengthAdjust="spacingAndGlyphs" stroke="#1c1c1c" stroke-width="0.2">Specificity</text>
<text transform="translate(58.40,550.4) rotate(-90)" font-size="8.3" font-weight="bold" text-anchor="middle" fill="#1c1c1c" stroke="#1c1c1c" stroke-width="0.2" textLength="25.6" lengthAdjust="spacingAndGlyphs">Sensitivity</text>
<line x1="339.60" y1="623.60" x2="497.30" y2="477.70" stroke="#a9a9a9" stroke-width="1"/>
<path d="M345.50,618.10 L380.00,533.10 L491.50,482.90" fill="none" stroke="#1f4262" stroke-width="1.4" stroke-linejoin="miter"/>
<path d="M345.50,618.10 L375.10,516.20 L491.50,482.90" fill="none" stroke="#bb2750" stroke-width="1.4" stroke-linejoin="miter"/>
<rect x="339.60" y="477.70" width="157.70" height="145.90" fill="none" stroke="#333" stroke-width="1.4"/>
<line x1="336.60" y1="618.10" x2="339.60" y2="618.10" stroke="#333" stroke-width="1" />
<text x="334.20" y="620.30" font-size="6.3" text-anchor="end" font-weight="normal" fill="#1c1c1c" stroke="#1c1c1c" stroke-width="0.18" textLength="9.00" lengthAdjust="spacingAndGlyphs" >0.0</text>
<line x1="491.50" y1="623.60" x2="491.50" y2="626.60" stroke="#333" stroke-width="1" />
<text x="491.50" y="635.70" font-size="6.3" text-anchor="middle" font-weight="normal" fill="#1c1c1c" stroke="#1c1c1c" stroke-width="0.18" textLength="9.00" lengthAdjust="spacingAndGlyphs" >0.0</text>
<line x1="336.60" y1="591.06" x2="339.60" y2="591.06" stroke="#333" stroke-width="1" />
<text x="334.20" y="593.26" font-size="6.3" text-anchor="end" font-weight="normal" fill="#1c1c1c" stroke="#1c1c1c" stroke-width="0.18" textLength="9.00" lengthAdjust="spacingAndGlyphs" >0.2</text>
<line x1="462.30" y1="623.60" x2="462.30" y2="626.60" stroke="#333" stroke-width="1" />
<text x="462.30" y="635.70" font-size="6.3" text-anchor="middle" font-weight="normal" fill="#1c1c1c" stroke="#1c1c1c" stroke-width="0.18" textLength="9.00" lengthAdjust="spacingAndGlyphs" >0.2</text>
<line x1="336.60" y1="564.02" x2="339.60" y2="564.02" stroke="#333" stroke-width="1" />
<text x="334.20" y="566.22" font-size="6.3" text-anchor="end" font-weight="normal" fill="#1c1c1c" stroke="#1c1c1c" stroke-width="0.18" textLength="9.00" lengthAdjust="spacingAndGlyphs" >0.4</text>
<line x1="433.10" y1="623.60" x2="433.10" y2="626.60" stroke="#333" stroke-width="1" />
<text x="433.10" y="635.70" font-size="6.3" text-anchor="middle" font-weight="normal" fill="#1c1c1c" stroke="#1c1c1c" stroke-width="0.18" textLength="9.00" lengthAdjust="spacingAndGlyphs" >0.4</text>
<line x1="336.60" y1="536.98" x2="339.60" y2="536.98" stroke="#333" stroke-width="1" />
<text x="334.20" y="539.18" font-size="6.3" text-anchor="end" font-weight="normal" fill="#1c1c1c" stroke="#1c1c1c" stroke-width="0.18" textLength="9.00" lengthAdjust="spacingAndGlyphs" >0.6</text>
<line x1="403.90" y1="623.60" x2="403.90" y2="626.60" stroke="#333" stroke-width="1" />
<text x="403.90" y="635.70" font-size="6.3" text-anchor="middle" font-weight="normal" fill="#1c1c1c" stroke="#1c1c1c" stroke-width="0.18" textLength="9.00" lengthAdjust="spacingAndGlyphs" >0.6</text>
<line x1="336.60" y1="509.94" x2="339.60" y2="509.94" stroke="#333" stroke-width="1" />
<text x="334.20" y="512.14" font-size="6.3" text-anchor="end" font-weight="normal" fill="#1c1c1c" stroke="#1c1c1c" stroke-width="0.18" textLength="9.00" lengthAdjust="spacingAndGlyphs" >0.8</text>
<line x1="374.70" y1="623.60" x2="374.70" y2="626.60" stroke="#333" stroke-width="1" />
<text x="374.70" y="635.70" font-size="6.3" text-anchor="middle" font-weight="normal" fill="#1c1c1c" stroke="#1c1c1c" stroke-width="0.18" textLength="9.00" lengthAdjust="spacingAndGlyphs" >0.8</text>
<line x1="336.60" y1="482.90" x2="339.60" y2="482.90" stroke="#333" stroke-width="1" />
<text x="334.20" y="485.10" font-size="6.3" text-anchor="end" font-weight="normal" fill="#1c1c1c" stroke="#1c1c1c" stroke-width="0.18" textLength="9.00" lengthAdjust="spacingAndGlyphs" >1.0</text>
<line x1="345.50" y1="623.60" x2="345.50" y2="626.60" stroke="#333" stroke-width="1" />
<text x="345.50" y="635.70" font-size="6.3" text-anchor="middle" font-weight="normal" fill="#1c1c1c" stroke="#1c1c1c" stroke-width="0.18" textLength="9.00" lengthAdjust="spacingAndGlyphs" >1.0</text>
<text x="354.80" y="494.40" font-size="7.0" text-anchor="start" font-weight="normal" fill="#1c1c1c" stroke="#1c1c1c" stroke-width="0.18" textLength="76.60" lengthAdjust="spacingAndGlyphs" >MAGIC composite response</text>
<text x="402.20" y="542.30" font-size="6.4" text-anchor="middle" font-weight="normal" fill="#1c1c1c" stroke="#1c1c1c" stroke-width="0.18" textLength="19.50" lengthAdjust="spacingAndGlyphs" >Clinical</text>
<text x="402.20" y="550.10" font-size="6.4" text-anchor="middle" font-weight="normal" fill="#1c1c1c" stroke="#1c1c1c" stroke-width="0.18" textLength="24.70" lengthAdjust="spacingAndGlyphs" >response</text>
<text x="488.20" y="617.6" font-size="6.3" text-anchor="end" fill="#1c1c1c" stroke="#1c1c1c" stroke-width="0.18" textLength="76" lengthAdjust="spacingAndGlyphs">AUC: 0.77 vs. 0.69, <tspan font-style="italic">P</tspan> = .014</text>
<text x="418.20" y="647.60" font-size="7.9" text-anchor="middle" font-weight="bold" fill="#1c1c1c" textLength="26.00" lengthAdjust="spacingAndGlyphs" stroke="#1c1c1c" stroke-width="0.2">Specificity</text>
<text transform="translate(320.00,550.4) rotate(-90)" font-size="8.3" font-weight="bold" text-anchor="middle" fill="#1c1c1c" stroke="#1c1c1c" stroke-width="0.2" textLength="25.6" lengthAdjust="spacingAndGlyphs">Sensitivity</text>
<rect x="0.5" y="0.5" width="519" height="656" fill="none" stroke="#515151" stroke-width="1"/>
</g></svg></body></html>
